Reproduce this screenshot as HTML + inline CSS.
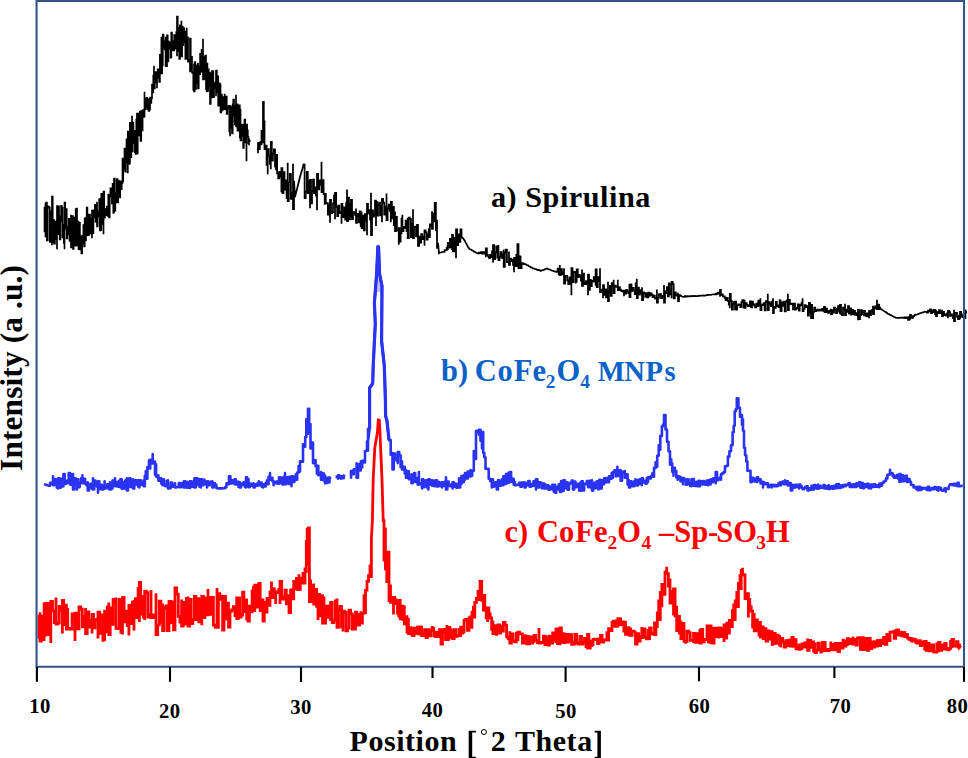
<!DOCTYPE html>
<html><head><meta charset="utf-8"><title>XRD</title>
<style>html,body{margin:0;padding:0;background:#fff;}body{width:968px;height:758px;overflow:hidden;font-family:"Liberation Serif",serif;}svg{display:block;}</style>
</head><body>
<svg width="968" height="758" viewBox="0 0 968 758">
<rect x="0" y="0" width="968" height="758" fill="#fff"/>
<polyline points="39.0,638.6 39.0,616.4 40.0,616.4 40.0,612.2 40.0,641.0 41.4,641.0 41.4,616.1 42.8,616.1 42.8,639.5 44.1,639.5 44.1,604.0 45.5,604.0 45.5,636.6 45.5,603.4 46.8,603.4 46.8,603.4 48.1,603.4 48.1,634.7 49.5,634.7 49.5,609.4 50.8,609.4 50.8,643.1 50.8,601.4 52.5,601.4 52.5,610.8 54.3,610.8 54.3,622.7 56.0,622.7 56.0,597.4 56.0,624.1 57.6,624.1 57.6,623.0 59.2,623.0 59.2,606.5 60.8,606.5 60.8,610.6 62.4,610.6 62.4,633.6 62.4,600.4 63.7,600.4 63.7,624.6 65.0,624.6 65.0,605.1 66.4,605.1 66.4,629.2 67.7,629.2 67.7,607.9 67.7,628.4 69.2,628.4 69.2,628.3 70.6,628.3 70.6,629.0 72.1,629.0 72.1,613.8 73.5,613.8 73.5,616.8 75.0,616.8 75.0,641.0 75.0,613.2 76.3,613.2 76.3,618.5 77.7,618.5 77.7,628.9 79.0,628.9 79.0,626.2 79.0,606.9 80.7,606.9 80.7,609.2 82.3,609.2 82.3,626.9 83.9,626.9 83.9,616.4 85.6,616.4 85.6,607.9 85.6,633.6 87.2,633.6 87.2,612.0 88.8,612.0 88.8,627.1 90.4,627.1 90.4,620.4 92.0,620.4 92.0,633.6 92.0,614.3 93.5,614.3 93.5,627.9 95.0,627.9 95.0,619.8 96.5,619.8 96.5,619.4 98.0,619.4 98.0,638.6 98.0,612.2 99.7,612.2 99.7,633.4 101.3,633.4 101.3,614.9 102.9,614.9 102.9,640.4 104.6,640.4 104.6,641.0 104.6,611.1 106.0,611.1 106.0,631.8 107.4,631.8 107.4,606.9 108.8,606.9 108.8,602.4 108.8,634.6 110.2,634.6 110.2,607.8 111.7,607.8 111.7,624.3 113.1,624.3 113.1,599.4 114.6,599.4 114.6,602.0 116.0,602.0 116.0,597.4 116.0,628.4 117.6,628.4 117.6,628.5 119.2,628.5 119.2,599.5 120.9,599.5 120.9,632.3 122.5,632.3 122.5,634.6 122.5,597.4 124.1,597.4 124.1,621.8 125.7,621.8 125.7,611.2 127.3,611.2 127.3,625.5 128.9,625.5 128.9,635.6 128.9,605.4 130.6,605.4 130.6,623.5 132.3,623.5 132.3,602.1 134.0,602.1 134.0,630.5 134.0,601.4 135.3,601.4 135.3,598.7 136.7,598.7 136.7,617.6 138.1,617.6 138.1,588.3 139.4,588.3 139.4,622.0 139.4,582.4 140.7,582.4 140.7,596.5 142.1,596.5 142.1,614.2 143.4,614.2 143.4,617.2 144.7,617.2 144.7,619.9 144.7,591.1 146.3,591.1 146.3,592.7 147.8,592.7 147.8,617.2 149.4,617.2 149.4,614.7 151.0,614.7 151.0,590.0 151.0,617.6 152.7,617.6 152.7,615.0 154.3,615.0 154.3,617.4 156.0,617.4 156.0,593.2 156.0,634.6 157.7,634.6 157.7,624.8 159.3,624.8 159.3,601.2 160.9,601.2 160.9,622.4 162.6,622.4 162.6,603.4 162.6,630.5 164.2,630.5 164.2,608.0 165.8,608.0 165.8,606.0 167.4,606.0 167.4,630.7 169.0,630.7 169.0,630.5 169.0,601.4 170.5,601.4 170.5,622.6 172.0,622.6 172.0,601.8 173.5,601.8 173.5,629.9 175.0,629.9 175.0,628.4 175.0,587.9 176.7,587.9 176.7,594.1 178.3,594.1 178.3,616.3 179.9,616.3 179.9,622.1 181.6,622.1 181.6,599.4 181.6,626.2 183.2,626.2 183.2,602.4 184.8,602.4 184.8,624.0 186.4,624.0 186.4,598.4 188.0,598.4 188.0,596.4 188.0,626.2 189.6,626.2 189.6,599.3 191.2,599.3 191.2,623.6 192.8,623.6 192.8,619.6 194.4,619.6 194.4,618.6 194.4,596.4 195.9,596.4 195.9,619.6 197.4,619.6 197.4,598.7 198.8,598.7 198.8,621.8 200.3,621.8 200.3,599.5 201.8,599.5 201.8,625.2 201.8,596.4 203.4,596.4 203.4,617.7 204.9,617.7 204.9,598.0 206.4,598.0 206.4,614.8 208.0,614.8 208.0,589.0 208.0,612.6 209.3,612.6 209.3,597.4 210.7,597.4 210.7,614.3 212.1,614.3 212.1,597.4 213.4,597.4 213.4,598.4 213.4,625.2 215.2,625.2 215.2,627.4 217.0,627.4 217.0,587.9 217.0,627.4 218.4,627.4 218.4,593.6 219.8,593.6 219.8,596.2 221.2,596.2 221.2,599.4 222.6,599.4 222.6,630.0 224.0,630.0 224.0,631.6 224.0,596.4 225.5,596.4 225.5,619.2 227.0,619.2 227.0,603.1 228.5,603.1 228.5,627.2 230.0,627.2 230.0,625.2 230.0,611.2 231.7,611.2 231.7,609.8 233.3,609.8 233.3,606.6 235.0,606.6 235.0,615.5 236.7,615.5 236.7,596.4 236.7,618.6 238.2,618.6 238.2,598.0 239.6,598.0 239.6,617.0 241.1,617.0 241.1,614.9 242.6,614.9 242.6,616.6 242.6,592.2 243.9,592.2 243.9,611.7 245.3,611.7 245.3,599.8 246.7,599.8 246.7,619.2 248.0,619.2 248.0,604.8 248.0,621.0 249.4,621.0 249.4,606.1 250.8,606.1 250.8,611.9 252.1,611.9 252.1,590.8 253.5,590.8 253.5,585.8 253.5,610.5 254.8,610.5 254.8,585.1 256.1,585.1 256.1,590.9 257.5,590.9 257.5,607.0 258.8,607.0 258.8,608.4 258.8,583.4 260.2,583.4 260.2,610.6 261.6,610.6 261.6,600.3 263.0,600.3 263.0,598.4 263.0,621.0 264.3,621.0 264.3,602.5 265.7,602.5 265.7,612.1 267.0,612.1 267.0,610.5 267.0,598.4 268.5,598.4 268.5,605.4 270.0,605.4 270.0,592.0 271.5,592.0 271.5,581.4 271.5,597.6 272.9,597.6 272.9,588.6 274.3,588.6 274.3,591.6 275.7,591.6 275.7,604.1 275.7,592.2 277.1,592.2 277.1,592.7 278.6,592.7 278.6,589.7 280.0,589.7 280.0,604.1 280.0,581.4 281.7,581.4 281.7,599.1 283.3,599.1 283.3,596.8 285.0,596.8 285.0,599.6 285.0,590.1 286.3,590.1 286.3,603.9 287.7,603.9 287.7,603.6 289.0,603.6 289.0,594.3 289.0,612.6 290.6,612.6 290.6,590.0 292.1,590.0 292.1,598.8 293.7,598.8 293.7,591.5 293.7,581.4 295.0,581.4 295.0,588.8 296.4,588.8 296.4,578.4 297.7,578.4 297.7,589.6 299.0,589.6 299.0,574.2 299.0,589.4 300.3,589.4 300.3,578.2 301.7,578.2 301.7,580.9 303.0,580.9 303.0,572.1 303.0,583.0 305.0,583.0 305.0,567.4 305.0,571.6 306.3,571.6 306.3,566.6 306.3,541.4 307.2,541.4 307.2,527.8 307.2,560.6 308.3,560.6 308.3,565.6 308.3,527.8 309.4,527.8 309.4,559.4 309.4,601.6 310.6,601.6 310.6,579.4 310.6,601.6 312.1,601.6 312.1,585.6 313.7,585.6 313.7,583.4 313.7,604.1 315.1,604.1 315.1,589.5 316.6,589.5 316.6,606.4 318.0,606.4 318.0,620.0 318.0,594.3 319.5,594.3 319.5,615.9 321.0,615.9 321.0,595.7 322.5,595.7 322.5,623.1 324.0,623.1 324.0,596.4 324.0,623.1 325.6,623.1 325.6,606.2 327.3,606.2 327.3,617.3 329.0,617.3 329.0,606.0 330.6,606.0 330.6,621.0 330.6,602.4 332.2,602.4 332.2,622.6 333.8,622.6 333.8,620.1 335.4,620.1 335.4,600.9 337.0,600.9 337.0,598.4 337.0,627.4 338.5,627.4 338.5,609.8 340.0,609.8 340.0,606.4 341.5,606.4 341.5,626.9 343.0,626.9 343.0,631.6 343.0,611.2 344.5,611.2 344.5,612.5 346.0,612.5 346.0,630.8 347.5,630.8 347.5,628.2 349.0,628.2 349.0,629.5 349.0,610.1 350.6,610.1 350.6,613.9 352.2,613.9 352.2,629.0 353.9,629.0 353.9,615.8 355.5,615.8 355.5,630.6 355.5,612.2 356.8,612.2 356.8,622.6 358.1,622.6 358.1,625.1 359.5,625.1 359.5,614.4 360.8,614.4 360.8,611.2 360.8,623.1 362.4,623.1 362.4,613.4 364.0,613.4 364.0,594.3 364.0,612.6 365.5,612.6 365.5,590.3 367.0,590.3 367.0,591.5 367.0,581.4 368.5,581.4 368.5,575.6 370.0,575.6 370.0,564.4 370.0,576.6 371.4,576.6 371.4,561.6 371.4,538.4 372.4,520.5 373.2,479.5 374.8,447.6 376.1,439.9 377.4,432.6 378.3,419.9 379.3,420.1 380.0,432.4 380.6,447.4 382.0,479.6 383.2,520.6 384.0,520.6 384.0,561.6 384.0,528.8 385.4,528.8 385.4,568.8 386.8,568.8 386.8,583.0 386.8,552.1 389.0,552.1 389.0,602.0 389.0,585.8 390.5,585.8 390.5,602.4 392.0,602.4 392.0,598.4 393.5,598.4 393.5,614.6 393.5,597.4 394.8,597.4 394.8,599.8 396.1,599.8 396.1,603.6 397.5,603.6 397.5,613.2 398.8,613.2 398.8,617.6 398.8,600.4 400.2,600.4 400.2,618.9 401.6,618.9 401.6,606.1 403.0,606.1 403.0,621.0 403.0,606.9 404.3,606.9 404.3,623.8 405.7,623.8 405.7,616.6 407.0,616.6 407.0,633.6 407.0,619.4 408.4,619.4 408.4,633.5 409.8,633.5 409.8,627.6 411.1,627.6 411.1,634.0 412.5,634.0 412.5,628.0 412.5,635.6 414.1,635.6 414.1,628.1 415.7,628.1 415.7,633.3 417.3,633.3 417.3,627.2 418.9,627.2 418.9,635.6 418.9,627.0 420.3,627.0 420.3,627.1 421.7,627.1 421.7,635.7 423.2,635.7 423.2,634.4 424.6,634.4 424.6,629.6 426.0,629.6 426.0,629.1 426.0,637.6 427.5,637.6 427.5,629.6 429.1,629.6 429.1,635.8 430.6,635.8 430.6,630.6 432.2,630.6 432.2,627.3 433.7,627.3 433.7,627.0 433.7,635.6 435.2,635.6 435.2,636.6 436.6,636.6 436.6,632.1 438.1,632.1 438.1,636.7 439.5,636.7 439.5,629.6 441.0,629.6 441.0,630.2 441.0,644.2 442.5,644.2 442.5,631.3 444.0,631.3 444.0,629.3 445.5,629.3 445.5,639.5 447.0,639.5 447.0,624.9 447.0,639.6 448.4,639.6 448.4,627.5 449.8,627.5 449.8,629.6 451.2,629.6 451.2,637.9 452.6,637.9 452.6,630.2 452.6,638.6 454.2,638.6 454.2,629.6 455.8,629.6 455.8,636.4 457.4,636.4 457.4,635.3 459.0,635.3 459.0,628.0 459.0,635.6 460.7,635.6 460.7,627.1 462.3,627.1 462.3,633.0 464.0,633.0 464.0,633.6 464.0,620.4 465.6,620.4 465.6,619.5 467.3,619.5 467.3,630.4 469.0,630.4 469.0,617.9 470.6,617.9 470.6,615.4 470.6,627.4 472.0,627.4 472.0,612.2 473.4,612.2 473.4,607.1 474.8,607.1 474.8,618.6 474.8,602.4 476.4,602.4 476.4,598.3 478.0,598.3 478.0,590.1 478.0,599.6 480.0,599.6 480.0,588.6 480.0,581.4 481.7,581.4 481.7,600.3 483.4,600.3 483.4,611.5 483.4,595.3 484.8,595.3 484.8,610.0 486.2,610.0 486.2,617.9 487.6,617.9 487.6,622.0 487.6,607.9 488.9,607.9 488.9,613.8 490.2,613.8 490.2,618.0 491.6,618.0 491.6,629.3 492.9,629.3 492.9,620.4 492.9,633.6 494.6,633.6 494.6,625.7 496.3,625.7 496.3,634.3 498.0,634.3 498.0,634.6 498.0,624.8 499.4,624.8 499.4,633.0 500.7,633.0 500.7,626.2 502.0,626.2 502.0,629.9 503.4,629.9 503.4,632.6 503.4,622.4 505.0,622.4 505.0,625.1 506.6,625.1 506.6,636.8 508.2,636.8 508.2,638.9 509.8,638.9 509.8,631.2 509.8,643.1 511.4,643.1 511.4,634.0 513.1,634.0 513.1,640.9 514.7,640.9 514.7,641.9 516.4,641.9 516.4,633.1 518.0,633.1 518.0,641.0 518.0,632.2 519.5,632.2 519.5,633.9 520.9,633.9 520.9,633.9 522.4,633.9 522.4,643.1 523.8,643.1 523.8,635.6 525.2,635.6 525.2,638.3 526.7,638.3 526.7,645.2 526.7,636.4 528.2,636.4 528.2,643.8 529.6,643.8 529.6,637.5 531.1,637.5 531.1,636.9 532.5,636.9 532.5,643.0 534.0,643.0 534.0,643.1 534.0,635.4 535.7,635.4 535.7,640.3 537.3,640.3 537.3,642.5 539.0,642.5 539.0,628.0 539.0,643.1 540.5,643.1 540.5,642.3 541.9,642.3 541.9,642.5 543.4,642.5 543.4,636.1 544.9,636.1 544.9,644.6 546.3,644.6 546.3,636.6 547.8,636.6 547.8,636.4 547.8,645.2 549.4,645.2 549.4,636.1 551.1,636.1 551.1,643.1 552.7,643.1 552.7,632.8 554.4,632.8 554.4,640.1 556.0,640.1 556.0,643.1 556.0,629.0 557.3,629.0 557.3,643.6 558.7,643.6 558.7,630.8 560.0,630.8 560.0,645.2 560.0,628.0 561.4,628.0 561.4,642.3 562.7,642.3 562.7,633.6 564.1,633.6 564.1,642.5 565.4,642.5 565.4,634.4 566.8,634.4 566.8,643.1 566.8,634.4 568.4,634.4 568.4,642.1 570.1,642.1 570.1,634.7 571.7,634.7 571.7,644.3 573.4,644.3 573.4,642.1 575.0,642.1 575.0,645.2 575.0,634.4 576.6,634.4 576.6,642.5 578.2,642.5 578.2,644.1 579.9,644.1 579.9,636.5 581.5,636.5 581.5,637.4 581.5,644.2 583.0,644.2 583.0,642.3 584.5,642.3 584.5,638.5 586.0,638.5 586.0,646.6 587.5,646.6 587.5,649.5 587.5,634.4 588.9,634.4 588.9,648.2 590.2,648.2 590.2,645.7 591.6,645.7 591.6,641.1 593.0,641.1 593.0,646.3 593.0,639.4 594.5,639.4 594.5,639.1 596.0,639.1 596.0,639.9 597.5,639.9 597.5,643.6 599.0,643.6 599.0,638.9 600.5,638.9 600.5,643.1 600.5,635.4 602.1,635.4 602.1,642.1 603.7,642.1 603.7,639.9 605.3,639.9 605.3,640.1 606.9,640.1 606.9,631.2 606.9,640.0 608.6,640.0 608.6,628.6 610.3,628.6 610.3,630.6 612.0,630.6 612.0,630.5 612.0,622.4 613.5,622.4 613.5,621.1 614.9,621.1 614.9,626.3 616.4,626.3 616.4,619.4 616.4,626.2 617.8,626.2 617.8,618.7 619.2,618.7 619.2,624.9 620.6,624.9 620.6,617.4 620.6,624.1 622.2,624.1 622.2,621.8 623.8,621.8 623.8,632.6 623.8,622.4 625.5,622.4 625.5,634.4 627.3,634.4 627.3,627.6 629.0,627.6 629.0,636.6 629.0,629.0 630.6,629.0 630.6,635.3 632.2,635.3 632.2,631.1 633.9,631.1 633.9,631.4 635.5,631.4 635.5,631.2 635.5,644.2 637.1,644.2 637.1,633.7 638.6,633.7 638.6,641.0 640.2,641.0 640.2,636.5 641.8,636.5 641.8,626.9 641.8,637.6 643.3,637.6 643.3,628.9 644.9,628.9 644.9,636.9 646.5,636.9 646.5,638.8 648.0,638.8 648.0,629.0 648.0,638.6 649.6,638.6 649.6,628.0 651.2,628.0 651.2,633.6 652.9,633.6 652.9,634.1 654.5,634.1 654.5,621.4 654.5,634.6 655.9,634.6 655.9,626.7 657.3,626.7 657.3,613.0 658.7,613.0 658.7,599.4 658.7,619.6 660.3,619.6 660.3,592.3 661.9,592.3 661.9,607.3 661.9,584.4 663.5,584.4 663.5,594.3 665.0,594.3 665.0,583.6 665.0,572.1 666.7,572.1 666.7,566.8 666.7,573.6 668.4,573.6 668.4,586.1 670.0,586.1 670.0,578.4 670.0,603.0 671.8,603.0 671.8,591.4 673.5,591.4 673.5,615.6 673.5,588.9 675.1,588.9 675.1,615.8 676.7,615.8 676.7,605.8 676.7,630.5 678.1,630.5 678.1,616.3 679.5,616.3 679.5,633.2 680.9,633.2 680.9,620.4 680.9,638.6 682.4,638.6 682.4,623.4 684.0,623.4 684.0,641.2 685.5,641.2 685.5,642.3 687.0,642.3 687.0,643.1 687.0,631.2 688.6,631.2 688.6,632.7 690.2,632.7 690.2,640.3 691.9,640.3 691.9,640.3 693.5,640.3 693.5,643.1 693.5,633.3 695.1,633.3 695.1,642.4 696.7,642.4 696.7,633.7 698.3,633.7 698.3,642.3 699.9,642.3 699.9,629.0 699.9,643.1 701.3,643.1 701.3,629.4 702.7,629.4 702.7,641.8 704.2,641.8 704.2,639.3 705.6,639.3 705.6,639.6 707.0,639.6 707.0,641.0 707.0,625.9 708.4,625.9 708.4,642.0 709.8,642.0 709.8,625.9 711.1,625.9 711.1,642.9 712.5,642.9 712.5,626.9 712.5,643.1 714.1,643.1 714.1,628.1 715.7,628.1 715.7,636.5 717.3,636.5 717.3,628.2 718.9,628.2 718.9,638.6 718.9,628.0 720.6,628.0 720.6,636.5 722.3,636.5 722.3,628.7 724.0,628.7 724.0,642.1 724.0,624.8 725.4,624.8 725.4,638.1 726.7,638.1 726.7,623.2 728.0,623.2 728.0,633.0 729.4,633.0 729.4,632.6 729.4,620.4 730.8,620.4 730.8,626.5 732.3,626.5 732.3,610.7 733.7,610.7 733.7,603.4 733.7,619.6 735.2,619.6 735.2,600.9 736.8,600.9 736.8,591.1 736.8,606.6 738.4,606.6 738.4,583.3 740.0,583.3 740.0,574.2 740.0,588.6 741.2,588.6 741.2,570.5 742.5,570.5 742.5,567.8 742.5,574.6 743.8,574.6 743.8,575.0 745.0,575.0 745.0,580.4 745.0,598.6 746.7,598.6 746.7,593.6 748.4,593.6 748.4,617.6 748.4,599.4 749.8,599.4 749.8,606.7 751.2,606.7 751.2,611.1 752.6,611.1 752.6,628.4 752.6,614.3 754.2,614.3 754.2,630.8 755.8,630.8 755.8,620.0 757.4,620.0 757.4,630.8 759.0,630.8 759.0,636.6 759.0,622.4 760.4,622.4 760.4,637.0 761.8,637.0 761.8,627.0 763.2,627.0 763.2,638.5 764.6,638.5 764.6,628.7 766.0,628.7 766.0,629.0 766.0,641.0 767.6,641.0 767.6,630.9 769.1,630.9 769.1,639.0 770.7,639.0 770.7,631.7 772.2,631.7 772.2,644.4 773.8,644.4 773.8,645.2 773.8,633.3 775.2,633.3 775.2,643.4 776.7,643.4 776.7,635.2 778.1,635.2 778.1,636.6 779.6,636.6 779.6,645.2 781.0,645.2 781.0,647.4 781.0,638.4 782.7,638.4 782.7,642.0 784.4,642.0 784.4,641.4 784.4,647.2 785.9,647.2 785.9,640.6 787.4,640.6 787.4,645.6 788.8,645.6 788.8,640.2 790.3,640.2 790.3,646.0 791.8,646.0 791.8,647.2 791.8,637.4 793.2,637.4 793.2,646.3 794.7,646.3 794.7,639.7 796.1,639.7 796.1,648.8 797.6,648.8 797.6,648.3 799.0,648.3 799.0,643.4 799.0,649.4 800.4,649.4 800.4,648.7 801.9,648.7 801.9,644.0 803.3,644.0 803.3,647.1 804.7,647.1 804.7,642.8 806.2,642.8 806.2,647.1 807.6,647.1 807.6,638.4 807.6,650.4 809.1,650.4 809.1,640.3 810.6,640.3 810.6,647.4 812.0,647.4 812.0,641.8 813.5,641.8 813.5,651.0 815.0,651.0 815.0,642.4 815.0,652.6 816.5,652.6 816.5,650.2 818.0,650.2 818.0,643.2 819.4,643.2 819.4,649.1 820.9,649.1 820.9,652.1 822.4,652.1 822.4,652.6 822.4,642.4 823.8,642.4 823.8,642.5 825.2,642.5 825.2,650.7 826.6,650.7 826.6,649.4 828.0,649.4 828.0,650.5 829.4,650.5 829.4,649.6 830.8,649.6 830.8,641.4 830.8,649.4 832.2,649.4 832.2,644.3 833.7,644.3 833.7,649.9 835.1,649.9 835.1,643.5 836.6,643.5 836.6,648.8 838.0,648.8 838.0,642.4 838.0,651.5 839.6,651.5 839.6,643.5 841.3,643.5 841.3,648.1 843.0,648.1 843.0,640.1 844.6,640.1 844.6,639.4 844.6,646.2 846.0,646.2 846.0,644.6 847.4,644.6 847.4,638.6 848.8,638.6 848.8,640.2 850.2,640.2 850.2,643.5 851.6,643.5 851.6,639.4 853.0,639.4 853.0,636.4 853.0,644.1 854.5,644.1 854.5,639.4 856.0,639.4 856.0,645.0 857.4,645.0 857.4,638.1 858.9,638.1 858.9,637.7 860.4,637.7 860.4,637.4 860.4,649.4 861.8,649.4 861.8,637.6 863.2,637.6 863.2,649.7 864.6,649.7 864.6,638.3 866.0,638.3 866.0,645.9 867.4,645.9 867.4,650.4 868.8,650.4 868.8,650.4 868.8,638.4 870.2,638.4 870.2,648.6 871.7,648.6 871.7,641.9 873.1,641.9 873.1,647.0 874.6,647.0 874.6,641.6 876.0,641.6 876.0,640.4 876.0,646.2 877.5,646.2 877.5,640.5 879.0,640.5 879.0,645.6 880.6,645.6 880.6,640.1 882.1,640.1 882.1,643.6 883.6,643.6 883.6,645.1 883.6,637.4 885.2,637.4 885.2,644.4 886.8,644.4 886.8,634.4 888.4,634.4 888.4,640.4 890.0,640.4 890.0,642.0 890.0,632.1 891.4,632.1 891.4,632.2 892.8,632.2 892.8,631.6 894.2,631.6 894.2,638.4 895.6,638.4 895.6,630.7 897.0,630.7 897.0,635.6 897.0,630.0 898.5,630.0 898.5,635.1 900.1,635.1 900.1,632.1 901.6,632.1 901.6,635.8 903.2,635.8 903.2,632.8 904.7,632.8 904.7,631.1 904.7,636.6 906.0,636.6 906.0,634.5 907.4,634.5 907.4,637.8 908.7,637.8 908.7,639.2 910.0,639.2 910.0,640.9 910.0,638.4 911.5,638.4 911.5,641.0 913.0,641.0 913.0,639.2 914.4,639.2 914.4,639.6 915.9,639.6 915.9,642.5 917.4,642.5 917.4,640.4 917.4,643.0 918.9,643.0 918.9,640.6 920.3,640.6 920.3,645.5 921.8,645.5 921.8,642.1 923.2,642.1 923.2,641.9 924.7,641.9 924.7,650.4 924.7,641.4 926.2,641.4 926.2,650.4 927.6,650.4 927.6,643.5 929.1,643.5 929.1,650.8 930.5,650.8 930.5,645.7 932.0,645.7 932.0,651.5 932.0,644.8 933.6,644.8 933.6,651.8 935.2,651.8 935.2,652.1 936.8,652.1 936.8,643.8 938.4,643.8 938.4,652.6 938.4,642.4 940.0,642.4 940.0,650.4 941.6,650.4 941.6,645.0 943.2,645.0 943.2,649.0 944.8,649.0 944.8,650.4 944.8,643.4 946.2,643.4 946.2,648.7 947.7,648.7 947.7,649.8 949.1,649.8 949.1,648.3 950.6,648.3 950.6,641.3 952.0,641.3 952.0,648.3 952.0,639.4 953.5,639.4 953.5,645.8 955.0,645.8 955.0,646.1 956.5,646.1 956.5,641.7 958.0,641.7 958.0,647.2 959.5,647.2 959.5,643.4 959.5,647.2 961.0,645.5" fill="none" stroke="#ff0000" stroke-width="2.8" stroke-linejoin="miter" stroke-linecap="butt"/>
<polyline points="44.0,484.2 45.2,484.6 46.4,484.8 47.5,485.3 48.7,485.7 50.1,485.7 50.1,482.9 51.6,482.9 51.6,483.4 53.0,483.4 53.0,476.3 53.0,485.2 54.2,485.2 54.2,479.1 55.5,479.1 55.5,481.7 56.8,481.7 56.8,487.5 58.0,487.5 58.0,488.4 58.0,478.3 59.4,478.3 59.4,487.8 60.7,487.8 60.7,478.8 62.0,478.8 62.0,486.5 63.4,486.5 63.4,486.3 63.4,474.1 64.7,474.1 64.7,484.0 66.0,484.0 66.0,480.8 67.4,480.8 67.4,482.8 68.7,482.8 68.7,483.1 68.7,473.1 70.1,473.1 70.1,484.6 71.6,484.6 71.6,474.4 73.0,474.4 73.0,474.1 73.0,489.5 74.3,489.5 74.3,478.4 75.7,478.4 75.7,484.3 77.0,484.3 77.0,489.5 77.0,479.3 78.3,479.3 78.3,487.1 79.7,487.1 79.7,483.0 81.1,483.0 81.1,478.3 82.4,478.3 82.4,475.2 82.4,483.1 83.7,483.1 83.7,478.8 85.1,478.8 85.1,483.7 86.4,483.7 86.4,485.2 87.7,485.2 87.7,482.3 87.7,490.5 89.0,490.5 89.0,487.2 90.3,487.2 90.3,483.9 91.7,483.9 91.7,488.7 93.0,488.7 93.0,478.3 93.0,489.5 94.2,489.5 94.2,480.6 95.5,480.6 95.5,482.5 96.8,482.5 96.8,486.6 98.0,486.6 98.0,492.7 98.0,481.3 99.3,481.3 99.3,489.2 100.6,489.2 100.6,484.9 102.0,484.9 102.0,489.5 103.3,489.5 103.3,486.2 104.6,486.2 104.6,481.3 104.6,488.4 105.9,488.4 105.9,487.3 107.3,487.3 107.3,484.2 108.7,484.2 108.7,489.3 110.0,489.3 110.0,482.3 110.0,489.5 111.2,489.5 111.2,488.4 112.5,488.4 112.5,480.6 113.8,480.6 113.8,481.3 115.0,481.3 115.0,478.3 115.0,486.3 116.3,486.3 116.3,482.1 117.7,482.1 117.7,486.6 119.1,486.6 119.1,480.7 120.4,480.7 120.4,487.4 120.4,479.3 121.7,479.3 121.7,488.6 123.0,488.6 123.0,482.0 124.2,482.0 124.2,488.4 125.5,488.4 125.5,480.3 126.8,480.3 126.8,478.3 126.8,490.5 128.0,490.5 128.0,479.6 129.3,479.6 129.3,478.4 130.5,478.4 130.5,486.9 131.8,486.9 131.8,480.4 133.0,480.4 133.0,479.3 133.0,488.4 134.3,488.4 134.3,480.2 135.6,480.2 135.6,484.5 136.8,484.5 136.8,480.4 138.1,480.4 138.1,486.6 139.4,486.6 139.4,487.4 139.4,480.3 140.8,480.3 140.8,485.0 142.3,485.0 142.3,481.9 143.7,481.9 143.7,480.3 143.7,486.3 144.8,486.3 144.8,475.9 145.8,475.9 145.8,471.0 145.8,478.7 147.4,478.7 147.4,467.0 149.0,467.0 149.0,460.3 149.0,468.4 150.2,468.4 150.2,459.8 151.5,459.8 151.5,463.5 152.7,463.5 152.7,454.1 152.7,461.7 153.8,461.7 153.8,461.5 155.0,461.5 155.0,474.7 155.0,464.3 156.1,464.3 156.1,476.6 157.3,476.6 157.3,477.3 158.4,477.3 158.4,475.2 158.4,480.7 159.8,480.7 159.8,478.2 161.2,478.2 161.2,483.6 162.6,483.6 162.6,485.2 162.6,479.3 163.9,479.3 163.9,485.3 165.3,485.3 165.3,486.1 166.7,486.1 166.7,480.8 168.0,480.8 168.0,480.3 168.0,488.4 169.4,488.4 169.4,488.1 170.8,488.1 170.8,482.5 172.2,482.5 172.2,486.6 173.6,486.6 173.6,485.9 175.0,485.9 175.0,483.3 175.0,487.4 176.3,487.4 176.3,487.2 177.5,487.2 177.5,486.9 178.8,486.9 178.8,483.1 180.0,483.1 180.0,487.3 181.3,487.3 181.3,483.3 182.5,483.3 182.5,486.5 183.8,486.5 183.8,487.4 183.8,481.3 185.0,481.3 185.0,487.4 186.3,487.4 186.3,481.9 187.5,481.9 187.5,487.7 188.8,487.7 188.8,483.8 190.0,483.8 190.0,488.0 190.0,481.3 191.5,481.3 191.5,486.7 192.9,486.7 192.9,481.8 194.4,481.8 194.4,478.3 194.4,487.4 195.7,487.4 195.7,478.3 197.0,478.3 197.0,485.0 198.2,485.0 198.2,479.0 199.5,479.0 199.5,486.8 200.8,486.8 200.8,487.4 200.8,479.3 202.0,479.3 202.0,485.3 203.3,485.3 203.3,479.9 204.5,479.9 204.5,484.1 205.8,484.1 205.8,483.0 207.0,483.0 207.0,487.4 207.0,481.3 208.3,481.3 208.3,485.3 209.7,485.3 209.7,482.3 211.1,482.3 211.1,481.5 212.4,481.5 212.4,481.3 212.4,487.4 213.7,487.4 213.7,483.3 215.1,483.3 215.1,484.9 216.4,484.9 216.4,488.1 217.7,488.4 219.0,488.3 220.2,488.4 221.5,488.3 222.7,488.4 224.0,488.3 225.2,488.3 225.2,487.1 226.5,487.1 226.5,483.4 227.8,483.4 227.8,484.3 229.0,484.3 229.0,484.2 229.0,476.3 230.4,476.3 230.4,483.5 231.8,483.5 231.8,480.3 233.1,480.3 233.1,483.0 234.5,483.0 234.5,484.2 234.5,479.3 235.8,479.3 235.8,484.4 237.2,484.4 237.2,481.9 238.5,481.9 238.5,486.9 239.8,486.9 239.8,482.3 239.8,487.4 241.0,487.4 241.0,483.6 242.3,483.6 242.3,485.0 243.5,485.0 243.5,482.2 244.8,482.2 244.8,486.7 246.0,486.7 246.0,487.4 246.0,477.3 247.2,477.3 247.2,479.1 248.5,479.1 248.5,487.1 249.8,487.1 249.8,483.6 251.0,483.6 251.0,485.7 252.2,485.7 252.2,485.4 253.5,485.4 253.5,483.3 253.5,487.4 254.8,487.4 254.8,484.4 256.1,484.4 256.1,485.6 257.5,485.6 257.5,483.2 258.8,483.2 258.8,481.3 258.8,485.3 260.2,485.3 260.2,482.6 261.6,482.6 261.6,486.6 263.0,486.6 263.0,487.4 263.0,484.3 264.3,484.3 264.3,486.4 265.7,486.4 265.7,482.7 267.0,482.7 267.0,480.3 267.0,484.2 268.5,484.2 268.5,476.7 270.0,476.7 270.0,473.1 270.0,479.7 271.2,479.7 271.2,477.7 272.4,477.7 272.4,481.1 273.6,481.1 273.6,485.3 273.6,482.3 275.0,482.3 275.0,483.3 276.3,483.3 276.3,481.5 277.6,481.5 277.6,483.7 279.0,483.7 279.0,483.2 279.0,477.3 280.2,477.3 280.2,483.2 281.4,483.2 281.4,477.9 282.6,477.9 282.6,484.5 283.8,484.5 283.8,476.8 285.0,476.8 285.0,473.1 285.0,484.2 286.3,484.2 286.3,477.8 287.6,477.8 287.6,477.0 288.9,477.0 288.9,483.9 290.2,483.9 290.2,476.7 291.5,476.7 291.5,486.3 291.5,476.3 292.9,476.3 292.9,482.0 294.4,482.0 294.4,477.0 295.8,477.0 295.8,474.2 295.8,479.7 297.2,479.7 297.2,472.5 298.6,472.5 298.6,466.0 300.0,466.0 300.0,471.6 300.0,461.3 301.5,461.3 301.5,461.7 303.0,461.7 303.0,458.7 303.0,444.3 304.1,444.3 304.1,446.8 305.2,446.8 305.2,437.0 306.3,437.0 306.3,419.3 306.3,433.7 308.0,433.7 308.0,413.7 308.0,408.7 309.2,408.7 309.2,424.1 310.5,424.1 310.5,434.1 310.5,448.4 311.8,448.4 311.8,442.6 313.0,442.6 313.0,451.0 313.0,463.1 314.3,463.1 314.3,460.3 315.6,460.3 315.6,466.2 316.9,466.2 316.9,473.7 316.9,465.7 318.3,465.7 318.3,475.2 319.6,475.2 319.6,474.1 321.0,474.1 321.0,472.1 321.0,479.7 322.3,479.7 322.3,473.3 323.7,473.3 323.7,480.4 325.0,480.4 325.0,475.3 325.0,483.2 326.5,483.2 326.5,477.9 328.0,477.9 328.0,482.5 329.5,482.5 329.5,482.1 329.5,477.3 330.6,479.0" fill="none" stroke="#2b33f3" stroke-width="2.6" stroke-linejoin="round" stroke-linecap="butt"/>
<polyline points="335.5,476.9 336.8,476.9 336.8,477.3 338.0,477.3 338.0,478.7 338.0,475.3 339.5,475.3 339.5,477.8 341.0,477.8 341.0,478.7 341.0,476.3 342.3,476.3 342.3,478.3 343.7,478.3 343.7,475.6 345.0,476.5" fill="none" stroke="#2b33f3" stroke-width="2.6" stroke-linejoin="round" stroke-linecap="butt"/>
<polyline points="351.0,478.7 351.0,471.0 352.4,471.0 352.4,474.3 353.8,474.3 353.8,469.2 355.2,469.2 355.2,469.5 356.6,469.5 356.6,463.3 356.6,477.7 358.0,477.7 358.0,464.3 359.4,464.3 359.4,470.5 360.8,470.5 360.8,461.3 360.8,467.4 362.2,467.4 362.2,460.8 363.6,460.8 363.6,462.5 365.0,462.5 365.0,460.7 365.0,451.0 366.0,451.0 366.0,450.5 367.0,450.5 367.0,441.3 367.0,450.7 368.0,450.7 368.0,428.8 368.0,441.7 369.6,428.9 369.6,388.0 371.1,385.6 372.7,383.4 373.2,366.0 374.2,344.9 375.3,324.0 374.4,303.1 375.5,288.4 376.6,274.2 377.5,246.5 378.9,246.8 379.6,274.0 380.8,280.2 382.0,285.9 381.6,341.1 383.0,353.4 384.3,365.9 385.4,400.2 385.6,415.9 387.0,421.2 388.0,430.4 389.0,440.1 390.7,440.1 390.7,451.3 390.7,454.7 392.5,454.7 392.5,453.1 392.5,469.5 393.8,469.5 393.8,453.6 395.1,453.6 395.1,458.4 396.5,458.4 396.5,460.6 397.8,460.6 397.8,463.1 397.8,452.0 399.2,452.0 399.2,455.4 400.6,455.4 400.6,467.2 402.0,467.2 402.0,461.3 402.0,469.5 403.3,469.5 403.3,466.7 404.7,466.7 404.7,473.5 406.0,473.5 406.0,470.0 406.0,477.7 407.4,477.7 407.4,471.3 408.8,471.3 408.8,479.3 410.1,479.3 410.1,478.9 411.5,478.9 411.5,474.2 411.5,483.2 412.7,483.2 412.7,479.7 414.0,479.7 414.0,473.0 415.2,473.0 415.2,482.0 416.4,482.0 416.4,478.0 417.7,478.0 417.7,484.6 418.9,484.6 418.9,472.1 418.9,484.2 420.4,484.2 420.4,483.2 422.0,483.2 422.0,488.5 422.0,479.3 423.3,479.3 423.3,487.1 424.6,487.1 424.6,485.5 425.8,485.5 425.8,480.4 427.1,480.4 427.1,487.4 428.4,487.4 428.4,489.5 428.4,479.3 429.6,479.3 429.6,484.8 430.9,484.8 430.9,480.3 432.1,480.3 432.1,485.8 433.3,485.8 433.3,480.9 434.6,480.9 434.6,486.3 435.8,486.3 435.8,486.3 435.8,480.3 437.0,480.3 437.0,486.4 438.3,486.4 438.3,482.1 439.5,482.1 439.5,485.9 440.8,485.9 440.8,485.5 442.0,485.5 442.0,487.4 442.0,482.3 443.3,482.3 443.3,486.0 444.7,486.0 444.7,481.7 446.0,481.7 446.0,477.3 446.0,489.5 447.3,489.5 447.3,481.6 448.6,481.6 448.6,485.9 450.0,485.9 450.0,486.1 451.3,486.1 451.3,484.3 452.6,484.3 452.6,488.5 452.6,482.3 453.9,482.3 453.9,486.8 455.2,486.8 455.2,483.8 456.4,483.8 456.4,487.7 457.7,487.7 457.7,484.3 459.0,484.3 459.0,478.3 459.0,487.4 460.2,487.4 460.2,484.0 461.4,484.0 461.4,476.0 462.6,476.0 462.6,482.1 463.8,482.1 463.8,475.2 465.0,475.2 465.0,479.7 465.0,473.1 466.4,473.1 466.4,478.5 467.8,478.5 467.8,471.6 469.2,471.6 469.2,476.5 470.6,476.5 470.6,470.0 470.6,475.7 472.2,475.7 472.2,470.8 473.8,470.8 473.8,467.4 473.8,451.0 474.9,451.0 474.9,459.0 476.0,459.0 476.0,448.7 476.0,430.9 477.5,430.9 477.5,432.3 479.0,432.3 479.0,434.7 479.0,429.8 480.5,429.8 480.5,440.8 482.0,440.8 482.0,448.4 482.0,432.0 483.2,432.0 483.2,452.9 484.3,452.9 484.3,457.2 485.5,457.2 485.5,461.3 485.5,468.7 487.1,468.7 487.1,468.9 488.7,468.9 488.7,475.3 488.7,478.7 490.2,478.7 490.2,481.1 491.8,481.1 491.8,487.4 491.8,479.3 493.0,479.3 493.0,486.6 494.3,486.6 494.3,483.2 495.5,483.2 495.5,482.4 496.8,482.4 496.8,489.4 498.0,489.4 498.0,489.5 498.0,480.3 499.4,480.3 499.4,485.7 500.7,485.7 500.7,485.3 502.0,485.3 502.0,479.4 503.4,479.4 503.4,485.3 503.4,476.3 504.7,476.3 504.7,483.9 506.0,483.9 506.0,474.0 507.2,474.0 507.2,482.9 508.5,482.9 508.5,472.8 509.8,472.8 509.8,482.1 509.8,472.1 511.1,472.1 511.1,482.0 512.4,482.0 512.4,478.7 513.7,478.7 513.7,484.8 515.0,484.8 515.0,482.3 515.0,485.3 516.4,485.3 516.4,485.0 517.7,485.0 517.7,484.7 519.1,484.7 519.1,482.8 520.4,482.8 520.4,486.7 521.8,486.7 521.8,482.5 523.1,482.5 523.1,484.4 524.5,484.4 524.5,482.3 524.5,487.4 525.8,487.4 525.8,483.1 527.1,483.1 527.1,485.1 528.3,485.1 528.3,481.0 529.6,481.0 529.6,486.7 530.9,486.7 530.9,484.1 532.2,484.1 532.2,485.9 533.4,485.9 533.4,481.4 534.7,481.4 534.7,480.8 536.0,480.8 536.0,489.5 536.0,479.3 537.4,479.3 537.4,487.5 538.8,487.5 538.8,482.2 540.2,482.2 540.2,482.9 541.5,482.9 541.5,488.1 542.9,488.1 542.9,483.6 544.3,483.6 544.3,488.4 545.7,488.4 545.7,484.7 545.7,488.5 547.0,488.5 547.0,485.3 548.4,485.3 548.4,489.6 549.7,489.6 549.7,486.6 551.0,486.6 551.0,489.3 552.3,489.3 552.3,484.7 553.7,484.7 553.7,491.6 555.0,491.6 555.0,484.7 555.0,492.7 556.2,492.7 556.2,486.7 557.5,486.7 557.5,489.2 558.7,489.2 558.7,484.4 559.9,484.4 559.9,492.0 561.1,492.0 561.1,481.0 562.4,481.0 562.4,490.9 563.6,490.9 563.6,490.6 563.6,480.3 564.9,480.3 564.9,488.1 566.3,488.1 566.3,482.3 567.6,482.3 567.6,489.7 569.0,489.7 569.0,484.0 570.3,484.0 570.3,482.7 571.7,482.7 571.7,480.6 573.0,480.6 573.0,481.3 573.0,489.5 574.2,489.5 574.2,481.5 575.4,481.5 575.4,487.3 576.6,487.3 576.6,483.7 577.9,483.7 577.9,486.3 579.1,486.3 579.1,490.6 580.3,490.6 580.3,482.5 581.5,482.5 581.5,490.6 581.5,481.3 582.8,481.3 582.8,490.4 584.1,490.4 584.1,483.8 585.4,483.8 585.4,484.3 586.8,484.3 586.8,481.0 588.1,481.0 588.1,487.1 589.4,487.1 589.4,480.8 590.7,480.8 590.7,487.5 592.0,487.5 592.0,480.3 592.0,490.6 593.2,490.6 593.2,483.1 594.4,483.1 594.4,488.3 595.6,488.3 595.6,482.6 596.9,482.6 596.9,481.2 598.1,481.2 598.1,489.2 599.3,489.2 599.3,479.8 600.5,479.8 600.5,480.3 600.5,488.5 601.7,488.5 601.7,480.4 602.9,480.4 602.9,484.3 604.1,484.3 604.1,478.3 605.4,478.3 605.4,482.3 606.6,482.3 606.6,478.1 607.8,478.1 607.8,482.2 609.0,482.2 609.0,482.1 609.0,476.3 610.3,476.3 610.3,478.6 611.7,478.6 611.7,473.1 613.0,473.1 613.0,477.7 613.0,472.1 614.5,472.1 614.5,470.4 615.9,470.4 615.9,476.2 617.4,476.2 617.4,466.8 617.4,475.7 619.0,475.7 619.0,470.6 620.6,470.6 620.6,470.0 620.6,480.7 622.0,480.7 622.0,471.7 623.4,471.7 623.4,472.7 624.8,472.7 624.8,471.0 624.8,477.7 626.2,477.7 626.2,474.2 627.6,474.2 627.6,484.6 629.0,484.6 629.0,480.3 629.0,487.4 630.3,487.4 630.3,481.4 631.6,481.4 631.6,485.7 632.9,485.7 632.9,486.2 634.2,486.2 634.2,481.4 635.5,481.4 635.5,479.3 635.5,485.3 636.8,485.3 636.8,485.5 638.0,485.5 638.0,479.7 639.3,479.7 639.3,484.0 640.5,484.0 640.5,479.1 641.8,479.1 641.8,485.3 641.8,478.3 643.0,478.3 643.0,480.5 644.3,480.5 644.3,482.8 645.5,482.8 645.5,483.6 646.8,483.6 646.8,478.1 648.0,478.1 648.0,482.1 648.0,477.3 649.5,477.3 649.5,478.4 650.9,478.4 650.9,476.0 652.4,476.0 652.4,473.3 652.4,476.7 654.0,476.7 654.0,467.9 655.6,467.9 655.6,462.3 655.6,466.7 657.2,466.7 657.2,455.7 658.7,455.7 658.7,445.3 658.7,449.7 660.3,449.7 660.3,435.9 661.9,435.9 661.9,430.7 661.9,426.3 663.0,426.3 663.0,424.6 664.0,424.6 664.0,418.7 664.0,415.1 665.5,415.1 665.5,429.5 667.0,429.5 667.0,437.3 667.0,441.7 668.5,441.7 668.5,451.3 670.0,451.3 670.0,464.7 670.0,459.3 671.2,459.3 671.2,463.4 672.3,463.4 672.3,471.8 673.5,471.8 673.5,475.7 673.5,467.8 674.9,467.8 674.9,471.1 676.3,471.1 676.3,477.4 677.7,477.4 677.7,479.7 677.7,476.3 679.0,476.3 679.0,476.7 680.4,476.7 680.4,481.1 681.7,481.1 681.7,478.0 683.0,478.0 683.0,484.2 683.0,478.3 684.4,478.3 684.4,479.9 685.8,479.9 685.8,484.8 687.2,484.8 687.2,479.4 688.6,479.4 688.6,483.6 690.0,483.6 690.0,485.9 691.4,485.9 691.4,486.3 691.4,479.3 692.6,479.3 692.6,479.1 693.8,479.1 693.8,485.8 695.0,485.8 695.0,485.9 696.3,485.9 696.3,481.8 697.5,481.8 697.5,486.2 698.7,486.2 698.7,480.7 699.9,480.7 699.9,486.3 699.9,481.3 701.2,481.3 701.2,484.5 702.6,484.5 702.6,481.1 704.0,481.1 704.0,484.3 705.3,484.3 705.3,484.8 706.6,484.8 706.6,480.6 708.0,480.6 708.0,485.3 708.0,480.3 709.3,480.3 709.3,484.5 710.6,484.5 710.6,479.2 711.9,479.2 711.9,482.2 713.1,482.2 713.1,478.4 714.4,478.4 714.4,481.3 715.7,481.3 715.7,483.2 715.7,472.1 717.0,472.1 717.0,480.2 718.4,480.2 718.4,479.3 719.7,479.3 719.7,477.6 721.0,477.6 721.0,479.7 721.0,474.2 722.3,474.2 722.3,473.2 723.7,473.2 723.7,472.0 725.0,472.0 725.0,470.7 725.0,466.3 726.5,466.3 726.5,465.8 727.9,465.8 727.9,456.6 729.4,456.6 729.4,455.7 729.4,451.3 731.0,451.3 731.0,445.3 732.6,445.3 732.6,436.7 732.6,432.3 733.7,432.3 733.7,425.7 734.7,425.7 734.7,416.7 734.7,411.3 735.8,411.3 735.8,409.1 736.8,409.1 736.8,402.7 736.8,398.3 738.4,398.3 738.4,407.7 740.0,407.7 740.0,408.7 740.0,416.7 741.0,416.7 741.0,415.0 742.0,415.0 742.0,424.7 742.0,419.3 743.0,419.3 743.0,430.8 744.0,430.8 744.0,442.3 744.0,447.7 745.1,447.7 745.1,455.2 746.3,455.2 746.3,461.4 747.4,461.4 747.4,466.3 747.4,470.7 749.0,470.7 749.0,470.7 750.5,470.7 750.5,475.3 750.5,482.1 751.8,482.1 751.8,477.9 753.1,477.9 753.1,478.5 754.3,478.5 754.3,481.4 755.6,481.4 755.6,479.3 756.9,479.3 756.9,482.1 756.9,477.3 758.1,477.3 758.1,481.0 759.3,481.0 759.3,479.3 760.6,479.3 760.6,483.4 761.8,483.4 761.8,481.7 763.0,481.7 763.0,487.4 763.0,482.3 764.2,482.3 764.2,484.2 765.5,484.2 765.5,483.2 766.7,483.2 766.7,483.4 767.9,483.4 767.9,487.1 769.1,487.1 769.1,485.1 770.4,485.1 770.4,486.4 771.6,486.4 771.6,487.4 771.6,484.7 773.0,484.7 773.0,486.3 774.4,486.3 774.4,485.1 775.8,485.1 775.8,486.2 777.2,486.2 777.2,485.6 778.6,485.6 778.6,483.1 780.0,483.1 780.0,482.3 780.0,485.3 781.2,485.3 781.2,482.6 782.5,482.6 782.5,481.6 783.8,481.6 783.8,484.1 785.0,484.1 785.0,480.3 785.0,484.2 786.5,484.2 786.5,481.4 787.9,481.4 787.9,485.5 789.3,485.5 789.3,483.0 790.8,483.0 790.8,484.3 790.8,490.5 792.2,490.5 792.2,485.0 793.5,485.0 793.5,487.7 794.9,487.7 794.9,484.7 796.3,484.7 796.3,487.0 797.6,487.0 797.6,485.1 799.0,485.1 799.0,488.4 799.0,484.6 800.2,484.6 800.2,485.8 801.5,485.8 801.5,487.7 802.7,487.7 802.7,489.3 803.9,489.3 803.9,488.3 805.1,488.3 805.1,487.0 806.4,487.0 806.4,486.4 807.6,486.4 807.6,486.7 807.6,490.5 808.9,490.5 808.9,488.2 810.2,488.2 810.2,489.6 811.5,489.6 811.5,485.8 812.8,485.8 812.8,489.4 814.1,489.4 814.1,485.1 815.4,485.1 815.4,487.4 816.7,487.4 816.7,488.6 818.0,488.6 818.0,484.6 818.0,488.4 819.3,488.4 819.3,485.9 820.7,485.9 820.7,487.7 822.0,487.7 822.0,487.9 823.4,487.9 823.4,485.0 824.7,485.0 824.7,488.5 826.0,488.5 826.0,486.3 827.4,486.3 827.4,488.7 828.7,488.7 828.7,485.1 828.7,488.9 830.0,488.9 830.0,488.3 831.3,488.3 831.3,486.4 832.6,486.4 832.6,488.7 833.9,488.7 833.9,485.7 835.1,485.7 835.1,488.2 836.4,488.2 836.4,484.4 837.7,484.4 837.7,487.9 839.0,487.9 839.0,484.1 839.0,487.9 840.4,487.9 840.4,485.6 841.7,485.6 841.7,487.2 843.0,487.2 843.0,485.0 844.4,485.0 844.4,486.3 845.8,486.3 845.8,484.8 847.1,484.8 847.1,484.9 848.4,484.9 848.4,483.2 849.8,483.2 849.8,483.1 849.8,486.9 851.1,486.9 851.1,484.6 852.4,484.6 852.4,487.0 853.8,487.0 853.8,484.4 855.1,484.4 855.1,486.9 856.4,486.9 856.4,483.2 857.8,483.2 857.8,486.0 859.1,486.0 859.1,482.4 860.4,482.4 860.4,482.3 860.4,487.7 861.7,487.7 861.7,483.1 863.0,483.1 863.0,488.1 864.4,488.1 864.4,484.3 865.7,484.3 865.7,486.8 867.0,486.8 867.0,483.8 868.4,483.8 868.4,488.2 869.7,488.2 869.7,484.7 871.0,484.7 871.0,488.4 871.0,484.6 872.4,484.6 872.4,487.0 873.8,487.0 873.8,484.4 875.2,484.4 875.2,486.8 876.6,486.8 876.6,485.3 878.0,485.3 878.0,486.8 879.4,486.8 879.4,487.3 879.4,483.5 880.7,483.5 880.7,485.6 882.0,485.6 882.0,483.0 883.4,483.0 883.4,481.8 884.7,481.8 884.7,480.8 886.0,480.8 886.0,478.4 887.4,478.4 887.4,474.7 888.7,474.7 888.7,474.4 890.0,474.4 890.0,469.9 890.0,472.7 891.3,472.7 891.3,473.2 892.7,473.2 892.7,476.2 894.0,476.2 894.0,475.3 894.0,477.7 895.4,477.7 895.4,477.6 896.7,477.6 896.7,475.0 898.0,475.0 898.0,478.6 899.4,478.6 899.4,482.0 899.4,474.1 900.6,474.1 900.6,481.4 901.9,481.4 901.9,475.4 903.1,475.4 903.1,481.1 904.3,481.1 904.3,480.0 905.6,480.0 905.6,475.8 906.8,475.8 906.8,476.2 906.8,482.0 908.2,482.0 908.2,479.0 909.6,479.0 909.6,481.7 911.0,481.7 911.0,484.8 912.3,484.8 912.3,485.1 913.6,485.1 913.6,487.5 914.8,487.5 914.8,487.1 916.1,487.1 916.1,488.8 917.4,488.8 917.4,486.9 917.4,490.1 918.7,490.1 918.7,486.9 920.0,486.9 920.0,489.9 921.3,489.9 921.3,487.8 922.6,487.8 922.6,488.8 924.0,488.8 924.0,488.0 925.3,488.0 925.3,488.1 926.6,488.1 926.6,490.0 927.9,490.0 927.9,490.1 927.9,486.9 929.2,486.9 929.2,490.3 930.5,490.3 930.5,489.1 931.8,489.1 931.8,488.1 933.1,488.1 933.1,489.3 934.5,489.3 934.5,487.0 935.8,487.0 935.8,487.5 937.1,487.5 937.1,490.0 938.4,490.0 938.4,490.7 938.4,487.3 939.6,487.3 939.6,488.1 940.9,488.1 940.9,489.9 942.1,489.9 942.1,490.7 943.3,490.7 943.3,490.0 944.6,490.0 944.6,488.3 945.8,488.3 945.8,491.7 945.8,488.8 947.2,488.8 947.2,488.9 948.6,488.9 948.6,487.3 950.0,484.3 951.2,484.3 951.2,484.4 952.5,484.4 952.5,485.2 953.7,485.2 953.7,483.8 954.9,483.8 954.9,485.5 956.2,485.5 956.2,484.3 957.4,484.3 957.4,486.2 957.4,482.8 958.7,482.8 958.7,486.1 960.0,486.1 960.0,486.3 961.4,485.7 962.7,486.2" fill="none" stroke="#2b33f3" stroke-width="2.6" stroke-linejoin="round" stroke-linecap="butt"/>
<polyline points="369.6,429 369.6,388 372.7,383.5 373.2,366 375.3,324 374.4,303 376.6,274 378.2,246.6 379.6,274 382,286 381.6,341 384.3,366 385.4,400 385.6,416 387,421 389,440" fill="none" stroke="#2b33f3" stroke-width="3.2" stroke-linejoin="round" stroke-linecap="butt"/>
<polygon points="378.2,247 376.6,274 379.6,274" fill="#2b33f3"/>
<polygon points="376.6,274 375.2,292 381.9,292 379.6,274" fill="#2b33f3" opacity="0.3"/>
<polyline points="44.5,206.7 44.5,231.3 45.5,231.3 45.5,202.7 45.5,236.3 46.2,236.3 46.2,202.7 46.9,202.7 46.9,240.5 47.7,240.5 47.7,206.4 48.4,206.4 48.4,206.9 49.1,206.9 49.1,207.7 49.8,207.7 49.8,241.9 50.6,241.9 50.6,211.3 51.3,211.3 51.3,239.3 52.0,239.3 52.0,245.3 52.0,196.7 52.7,196.7 52.7,242.2 53.4,242.2 53.4,220.0 54.1,220.0 54.1,243.6 54.9,243.6 54.9,238.9 55.6,238.9 55.6,221.7 56.3,221.7 56.3,233.8 57.0,233.8 57.0,249.3 57.0,206.2 57.7,206.2 57.7,234.1 58.4,234.1 58.4,206.3 59.0,206.3 59.0,216.3 59.7,216.3 59.7,239.5 60.4,239.5 60.4,221.4 61.1,221.4 61.1,205.9 61.8,205.9 61.8,207.9 62.5,207.9 62.5,237.4 63.1,237.4 63.1,224.6 63.8,224.6 63.8,243.0 64.5,243.0 64.5,249.3 64.5,202.7 65.2,202.7 65.2,228.6 65.9,228.6 65.9,209.0 66.7,209.0 66.7,238.4 67.4,238.4 67.4,227.1 68.1,227.1 68.1,234.4 68.8,234.4 68.8,218.8 69.6,218.8 69.6,240.8 70.3,240.8 70.3,219.3 71.0,219.3 71.0,214.7 71.0,247.3 71.7,247.3 71.7,234.7 72.3,234.7 72.3,216.2 73.0,216.2 73.0,248.8 73.7,248.8 73.7,217.7 74.3,217.7 74.3,239.8 75.0,239.8 75.0,245.7 75.7,245.7 75.7,209.0 76.3,209.0 76.3,229.7 77.0,229.7 77.0,207.7 77.0,245.3 77.7,245.3 77.7,221.5 78.5,221.5 78.5,249.2 79.2,249.2 79.2,222.8 79.9,222.8 79.9,249.5 80.7,249.5 80.7,239.1 81.4,239.1 81.4,235.7 81.4,253.3 82.1,253.3 82.1,235.6 82.7,235.6 82.7,243.4 83.4,243.4 83.4,225.2 84.1,225.2 84.1,246.3 84.7,246.3 84.7,218.4 85.4,218.4 85.4,240.5 86.0,240.5 86.0,217.6 86.7,217.6 86.7,236.3 86.7,207.7 87.4,207.7 87.4,235.2 88.0,235.2 88.0,214.5 88.7,214.5 88.7,234.8 89.3,234.8 89.3,214.6 90.0,214.6 90.0,233.3 90.7,233.3 90.7,218.8 91.3,218.8 91.3,229.3 92.0,229.3 92.0,238.3 92.0,210.7 92.7,210.7 92.7,233.1 93.4,233.1 93.4,210.4 94.1,210.4 94.1,217.2 94.9,217.2 94.9,204.8 95.6,204.8 95.6,221.7 96.3,221.7 96.3,210.6 97.0,210.6 97.0,201.7 97.0,226.3 97.7,226.3 97.7,211.0 98.4,211.0 98.4,216.5 99.2,216.5 99.2,199.1 99.9,199.1 99.9,230.5 100.6,230.5 100.6,229.8 101.3,229.8 101.3,193.8 102.1,193.8 102.1,223.8 102.8,223.8 102.8,202.6 103.5,202.6 103.5,234.3 103.5,191.7 104.2,191.7 104.2,217.7 104.9,217.7 104.9,209.0 105.6,209.0 105.6,214.4 106.2,214.4 106.2,215.2 106.9,215.2 106.9,206.5 107.6,206.5 107.6,215.8 108.3,215.8 108.3,194.9 109.0,194.9 109.0,193.7 109.0,217.3 109.7,217.3 109.7,196.5 110.4,196.5 110.4,188.3 111.1,188.3 111.1,192.3 111.9,192.3 111.9,203.3 112.6,203.3 112.6,183.8 113.3,183.8 113.3,212.8 114.0,212.8 114.0,213.3 114.0,178.7 114.7,178.7 114.7,210.6 115.3,210.6 115.3,202.3 116.0,202.3 116.0,192.4 116.7,192.4 116.7,179.2 117.4,179.2 117.4,202.3 118.1,202.3 118.1,180.5 118.7,180.5 118.7,193.9 119.4,193.9 119.4,180.7 119.4,197.3 120.2,197.3 120.2,181.3 121.0,181.3 121.0,189.1 121.7,189.1 121.7,182.8 122.5,182.8 122.5,157.7 122.5,181.3 123.2,181.3 123.2,159.4 123.8,159.4 123.8,168.8 124.5,168.8 124.5,148.7 125.2,148.7 125.2,171.7 125.8,171.7 125.8,150.9 126.5,150.9 126.5,139.4 127.1,139.4 127.1,162.4 127.8,162.4 127.8,173.3 127.8,131.7 128.5,131.7 128.5,164.0 129.2,164.0 129.2,163.5 129.9,163.5 129.9,122.9 130.6,122.9 130.6,157.2 131.3,157.2 131.3,130.3 132.0,130.3 132.0,115.7 132.0,151.3 132.7,151.3 132.7,122.6 133.4,122.6 133.4,142.9 134.1,142.9 134.1,130.8 134.9,130.8 134.9,152.2 135.6,152.2 135.6,153.9 136.3,153.9 136.3,119.7 137.0,119.7 137.0,112.7 137.0,153.3 137.7,153.3 137.7,113.5 138.4,113.5 138.4,120.2 139.1,120.2 139.1,135.4 139.8,135.4 139.8,111.6 140.5,111.6 140.5,140.8 141.2,140.8 141.2,111.1 141.9,111.1 141.9,127.5 142.6,127.5 142.6,131.3 142.6,110.2 143.2,110.2 143.2,116.8 143.9,116.8 143.9,116.6 144.5,116.6 144.5,91.7 144.5,109.3 145.2,109.3 145.2,98.8 145.9,98.8 145.9,107.4 146.6,107.4 146.6,97.8 147.2,97.8 147.2,109.2 147.9,109.2 147.9,99.3 148.6,99.3 148.6,110.9 149.3,110.9 149.3,103.2 150.0,103.2 150.0,110.3 150.0,97.7 150.7,97.7 150.7,103.0 151.3,103.0 151.3,98.3 152.0,98.3 152.0,84.7 152.7,84.7 152.7,92.4 153.3,92.4 153.3,75.7 154.0,75.7 154.0,65.7 154.0,88.3 154.8,88.3 154.8,82.5 155.5,82.5 155.5,72.2 156.2,72.2 156.2,80.5 157.0,80.5 157.0,88.3 157.0,72.7 157.7,72.7 157.7,69.3 158.5,69.3 158.5,77.9 159.2,77.9 159.2,82.0 159.9,82.0 159.9,54.9 160.7,54.9 160.7,72.7 161.4,72.7 161.4,36.7 161.4,73.3 162.1,73.3 162.1,65.5 162.8,65.5 162.8,34.6 163.5,34.6 163.5,48.4 164.2,48.4 164.2,41.4 164.9,41.4 164.9,49.5 165.6,49.5 165.6,66.8 165.6,37.7 166.3,37.7 166.3,66.2 167.0,66.2 167.0,35.3 167.7,35.3 167.7,61.4 168.4,61.4 168.4,41.6 169.2,41.6 169.2,48.7 169.9,48.7 169.9,42.9 170.6,42.9 170.6,57.7 171.3,57.7 171.3,56.3 171.3,32.7 172.0,32.7 172.0,41.1 172.7,41.1 172.7,49.8 173.4,49.8 173.4,50.5 174.2,50.5 174.2,35.1 174.9,35.1 174.9,47.6 175.6,47.6 175.6,48.7 176.3,48.7 176.3,32.2 177.0,32.2 177.0,56.3 177.0,16.7 177.7,16.7 177.7,51.1 178.5,51.1 178.5,27.8 179.2,27.8 179.2,58.8 179.9,58.8 179.9,25.4 180.7,25.4 180.7,47.0 181.4,47.0 181.4,20.7 181.4,56.3 182.1,56.3 182.1,26.7 182.7,26.7 182.7,45.2 183.4,45.2 183.4,28.0 184.1,28.0 184.1,42.2 184.7,42.2 184.7,31.7 185.4,31.7 185.4,58.9 186.0,58.9 186.0,40.8 186.7,40.8 186.7,27.7 186.7,58.3 187.4,58.3 187.4,37.4 188.0,37.4 188.0,61.7 188.7,61.7 188.7,60.6 189.3,60.6 189.3,60.0 190.0,60.0 190.0,72.3 190.0,38.7 190.7,38.7 190.7,70.7 191.3,70.7 191.3,56.8 192.0,56.8 192.0,72.3 192.7,72.3 192.7,73.0 193.3,73.0 193.3,89.7 194.0,89.7 194.0,63.7 194.0,91.3 194.7,91.3 194.7,62.0 195.3,62.0 195.3,88.9 196.0,88.9 196.0,83.5 196.7,83.5 196.7,65.3 197.3,65.3 197.3,82.8 198.0,82.8 198.0,62.7 198.0,88.3 198.7,88.3 198.7,66.7 199.4,66.7 199.4,74.1 200.1,74.1 200.1,53.9 200.9,53.9 200.9,71.7 201.6,71.7 201.6,49.9 202.3,49.9 202.3,68.2 203.0,68.2 203.0,38.7 203.0,79.3 203.8,79.3 203.8,57.2 204.5,57.2 204.5,79.0 205.3,79.0 205.3,55.5 206.0,55.5 206.0,89.5 206.8,89.5 206.8,92.3 206.8,63.7 207.4,63.7 207.4,90.8 208.1,90.8 208.1,69.3 208.7,69.3 208.7,86.4 209.4,86.4 209.4,72.5 210.0,72.5 210.0,73.7 210.0,103.8 210.7,103.8 210.7,73.6 211.3,73.6 211.3,97.3 212.0,97.3 212.0,71.0 212.7,71.0 212.7,71.3 213.3,71.3 213.3,97.1 214.0,97.1 214.0,83.4 214.7,83.4 214.7,87.9 215.3,87.9 215.3,82.5 216.0,82.5 216.0,96.3 216.0,70.7 216.8,70.7 216.8,92.3 217.5,92.3 217.5,76.4 218.2,76.4 218.2,105.7 219.0,105.7 219.0,83.4 219.8,83.4 219.8,84.7 220.5,84.7 220.5,84.7 220.5,112.3 221.2,112.3 221.2,94.6 221.9,94.6 221.9,110.5 222.6,110.5 222.6,105.1 223.3,105.1 223.3,97.0 224.0,97.0 224.0,109.2 224.7,109.2 224.7,93.7 224.7,107.3 225.4,107.3 225.4,109.4 226.0,109.4 226.0,96.5 226.7,96.5 226.7,113.9 227.3,113.9 227.3,106.9 228.0,106.9 228.0,108.7 228.7,108.7 228.7,105.8 229.3,105.8 229.3,131.4 230.0,131.4 230.0,136.3 230.0,106.2 230.7,106.2 230.7,127.7 231.3,127.7 231.3,107.7 232.0,107.7 232.0,133.5 232.7,133.5 232.7,104.4 233.3,104.4 233.3,99.6 234.0,99.6 234.0,116.0 234.7,116.0 234.7,124.5 235.3,124.5 235.3,106.1 236.0,106.1 236.0,94.7 236.0,126.3 236.8,126.3 236.8,104.3 237.5,104.3 237.5,130.6 238.2,130.6 238.2,114.3 239.0,114.3 239.0,105.4 239.8,105.4 239.8,137.4 240.5,137.4 240.5,108.7 240.5,140.3 241.2,140.3 241.2,124.8 241.8,124.8 241.8,136.0 242.5,136.0 242.5,124.5 243.2,124.5 243.2,148.0 243.8,148.0 243.8,125.7 244.5,125.7 244.5,119.7 245.2,119.7 245.2,142.3 245.8,142.3 245.8,129.9 246.5,129.9 246.5,161.3 246.5,124.7 247.1,124.7 247.1,130.3 247.8,130.3 247.8,136.8 248.4,136.8 248.4,143.2 249.0,143.2 249.0,145.3 249.0,138.7 250.0,142.0" fill="none" stroke="#000" stroke-width="1.7" stroke-linejoin="miter" stroke-linecap="butt"/>
<polyline points="257.0,148.9 258.0,148.9 258.0,153.2 258.0,142.8 258.9,142.8 258.9,149.1 259.8,149.1 259.8,142.5 260.6,142.5 260.6,141.9 261.5,141.9 261.5,145.2 261.5,130.8 262.2,130.8 262.2,131.4 263.0,131.4 263.0,143.2 263.0,101.8 263.8,101.8 263.8,121.4 264.5,121.4 264.5,130.8 264.5,149.2 265.6,149.2 265.6,145.5 266.6,145.5 266.6,164.9 267.7,164.9 267.7,174.2 267.7,149.2 268.7,149.2 268.7,155.5 269.8,155.5 269.8,163.9 270.8,163.9 270.8,169.2 270.8,141.8 271.8,141.8 271.8,160.7 272.9,160.7 272.9,153.5 273.9,153.5 273.9,149.3 275.0,149.3 275.0,166.5 276.0,166.5 276.0,170.2 276.0,154.8 277.1,154.8 277.1,173.4 278.2,173.4 278.2,178.3 279.2,178.3 279.2,171.8 280.3,171.8 280.3,176.6 281.4,176.6 281.4,192.2 281.4,168.2 282.4,168.2 282.4,193.1 283.5,193.1 283.5,172.0 284.5,172.0 284.5,189.6 285.6,189.6 285.6,180.4 286.6,180.4 286.6,198.0 287.7,198.0 287.7,162.8 287.7,201.2 288.8,201.2 288.8,182.4 289.8,182.4 289.8,173.9 290.9,173.9 290.9,198.9 291.9,198.9 291.9,193.2 293.0,193.2 293.0,163.8 293.0,209.2 294.0,209.2 294.0,180.9 295.0,197.1 296.0,192.9 297.0,189.1 298.0,185.0 299.0,181.0 300.1,176.6 301.2,172.8 302.4,168.7 303.5,164.4 304.6,164.4 304.6,163.8 304.6,198.2 305.7,198.2 305.7,191.9 306.8,191.9 306.8,171.9 307.8,171.9 307.8,193.0 308.9,193.0 308.9,181.2 310.0,181.2 310.0,208.2 310.0,179.8 311.0,179.8 311.0,203.3 312.0,203.3 312.0,191.2 313.0,191.2 313.0,179.7 314.0,179.7 314.0,193.0 315.0,193.0 315.0,187.4 316.0,187.4 316.0,195.6 317.0,195.6 317.0,210.2 317.0,173.8 318.1,173.8 318.1,189.3 319.2,189.3 319.2,180.3 320.4,180.3 320.4,184.7 321.5,184.7 321.5,161.8 321.5,192.2 322.6,192.2 322.6,180.2 323.6,180.2 323.6,194.2 324.7,194.2 324.7,204.8 324.7,193.8 325.8,193.8 325.8,203.3 326.8,203.3 326.8,203.0 327.9,203.0 327.9,214.5 328.9,214.5 328.9,205.4 330.0,205.4 330.0,222.8 330.0,199.8 331.0,199.8 331.0,213.2 332.0,213.2 332.0,212.1 333.0,212.1 333.0,203.4 334.0,203.4 334.0,195.4 335.0,195.4 335.0,219.2 335.0,192.8 336.1,192.8 336.1,207.0 337.2,207.0 337.2,216.1 338.2,216.1 338.2,205.7 339.3,205.7 339.3,213.2 340.4,213.2 340.4,211.6 341.5,211.6 341.5,223.8 341.5,203.8 342.4,203.8 342.4,215.1 343.3,215.1 343.3,217.0 344.2,217.0 344.2,207.3 345.2,207.3 345.2,219.7 346.1,219.7 346.1,203.0 347.0,203.0 347.0,189.4 347.0,221.2 348.0,221.2 348.0,197.5 349.0,197.5 349.0,219.4 350.0,219.4 350.0,204.3 351.0,204.3 351.0,217.2 351.0,199.8 352.0,199.8 352.0,219.1 353.0,219.1 353.0,212.2 354.0,212.2 354.0,212.3 355.0,212.3 355.0,214.9 356.0,214.9 356.0,208.4 356.0,222.8 356.9,222.8 356.9,216.0 357.9,216.0 357.9,213.8 358.8,213.8 358.8,222.3 359.7,222.3 359.7,211.4 360.7,211.4 360.7,226.1 361.6,226.1 361.6,211.8 361.6,228.2 362.7,228.2 362.7,215.5 363.8,215.5 363.8,230.4 364.8,230.4 364.8,214.0 365.9,214.0 365.9,221.0 367.0,221.0 367.0,235.2 367.0,203.8 368.0,203.8 368.0,213.3 369.0,213.3 369.0,210.2 370.0,210.2 370.0,219.6 371.0,219.6 371.0,192.8 371.0,235.2 372.0,235.2 372.0,210.3 373.0,210.3 373.0,216.7 374.0,216.7 374.0,214.6 375.0,214.6 375.0,200.5 376.0,200.5 376.0,225.9 376.0,201.8 377.0,201.8 377.0,215.6 378.0,215.6 378.0,205.0 379.0,205.0 379.0,202.6 380.0,202.6 380.0,215.3 381.0,215.3 381.0,206.1 382.0,206.1 382.0,222.2 382.0,198.8 383.1,198.8 383.1,202.7 384.2,202.7 384.2,214.6 385.4,214.6 385.4,206.4 386.5,206.4 386.5,193.4 386.5,220.2 387.6,220.2 387.6,208.4 388.6,208.4 388.6,204.5 389.7,204.5 389.7,210.9 390.8,210.9 390.8,222.2 390.8,201.8 391.9,201.8 391.9,218.4 392.9,218.4 392.9,206.9 393.9,206.9 393.9,225.0 395.0,225.0 395.0,211.4 395.0,231.2 395.9,231.2 395.9,216.9 396.9,216.9 396.9,230.6 397.9,230.6 397.9,230.5 398.8,230.5 398.8,244.8 398.8,228.2 399.7,228.2 399.7,241.7 400.6,241.7 400.6,233.3 401.5,233.3 401.5,218.5 402.4,218.5 402.4,214.8 402.4,231.2 403.5,231.2 403.5,226.9 404.5,226.9 404.5,228.2 405.6,228.2 405.6,220.7 406.6,220.7 406.6,231.0 407.7,231.0 407.7,217.8 407.7,238.2 408.8,238.2 408.8,217.6 409.8,217.6 409.8,218.9 410.9,218.9 410.9,237.1 411.9,237.1 411.9,223.7 413.0,223.7 413.0,209.2 413.0,238.2 414.0,238.2 414.0,227.0 415.0,227.0 415.0,226.6 416.0,226.6 416.0,236.4 417.0,236.4 417.0,224.9 418.0,224.9 418.0,228.2 418.0,245.8 419.1,245.8 419.1,236.5 420.2,236.5 420.2,242.6 421.2,242.6 421.2,234.0 422.3,234.0 422.3,239.1 423.4,239.1 423.4,236.7 424.5,236.7 424.5,245.8 424.5,230.4 425.6,230.4 425.6,232.4 426.6,232.4 426.6,239.7 427.7,239.7 427.7,234.1 428.8,234.1 428.8,228.2 428.8,237.2 429.9,237.2 429.9,224.4 430.9,224.4 430.9,226.2 432.0,226.2 432.0,211.3 432.0,228.9 432.9,228.9 432.9,216.4 433.8,216.4 433.8,213.5 434.7,213.5 434.7,222.2 434.7,202.8 435.9,202.8 435.9,230.2 437.0,230.2 437.0,219.8 437.0,247.9 438.0,247.9 438.0,242.8 439.0,253.2 440.1,252.5 441.2,252.4 442.4,252.0 443.5,251.8 444.6,251.8 444.6,250.2 445.6,250.2 445.6,250.0 446.7,250.0 446.7,247.6 447.8,247.6 447.8,250.1 447.8,242.8 448.9,242.8 448.9,247.7 449.9,247.7 449.9,238.8 450.9,238.8 450.9,247.1 452.0,247.1 452.0,250.1 452.0,234.8 453.0,234.8 453.0,251.3 454.0,251.3 454.0,237.8 455.0,237.8 455.0,250.7 456.0,250.7 456.0,258.2 456.0,229.4 457.1,229.4 457.1,245.1 458.2,245.1 458.2,234.4 459.3,234.4 459.3,241.9 460.4,241.9 460.4,241.2 460.4,229.4 461.5,229.4 461.5,237.7 462.5,237.7 462.5,237.6 463.6,239.0 464.7,240.7 465.8,242.9 466.8,244.7 467.9,246.7 469.0,248.5 470.0,249.3 471.0,249.6 472.0,250.3 473.0,250.7 474.0,251.6 475.0,251.8 476.0,252.7 477.0,253.0 478.0,253.4 479.0,253.4 479.0,252.5 479.9,252.5 479.9,253.1 480.9,253.1 480.9,252.1 481.9,252.1 481.9,253.5 482.9,253.5 482.9,252.5 483.8,252.5 483.8,252.0 484.8,252.0 484.8,253.6 485.8,253.6 485.8,257.2 485.8,248.4 486.9,248.4 486.9,254.9 487.9,254.9 487.9,255.7 489.0,258.0 490.0,258.0 490.0,254.8 491.0,254.8 491.0,257.0 492.0,257.0 492.0,251.4 493.0,251.4 493.0,262.6 493.0,245.1 494.1,245.1 494.1,259.1 495.2,259.1 495.2,252.5 496.2,252.5 496.2,246.4 497.3,246.4 497.3,257.5 498.4,257.5 498.4,245.1 498.4,260.2 499.5,260.2 499.5,256.5 500.5,256.5 500.5,252.1 501.6,252.1 501.6,257.8 502.6,257.8 502.6,254.7 503.7,254.7 503.7,249.4 503.7,266.9 504.8,266.9 504.8,252.7 505.8,252.7 505.8,249.5 506.9,249.5 506.9,262.1 507.9,262.1 507.9,261.7 509.0,261.7 509.0,251.5 509.0,264.8 510.0,264.8 510.0,258.6 511.0,258.6 511.0,261.1 512.0,261.1 512.0,259.7 513.0,259.7 513.0,264.9 514.0,264.9 514.0,272.2 514.0,257.8 515.1,257.8 515.1,266.1 516.3,266.1 516.3,254.8 517.4,254.8 517.4,266.9 517.4,244.1 518.5,244.1 518.5,268.1 519.5,268.1 519.5,256.1 520.6,256.1 520.6,255.8 520.6,268.0 521.7,268.0 521.7,263.0 522.8,263.0 522.8,263.7 523.8,263.7 523.8,264.2 524.9,264.2 524.9,263.9 526.0,264.5 527.0,265.1 528.0,265.4 529.0,266.3 530.0,266.6 531.0,267.5 532.0,267.7 533.0,268.3 534.0,268.5 534.9,268.8 535.9,269.1 536.9,269.6 537.9,270.1 538.8,270.0 539.8,270.4 540.8,270.9 541.8,270.3 542.9,270.1 543.9,269.9 544.9,269.2 546.0,269.0 547.0,268.5 548.1,269.1 549.1,269.4 550.2,269.8 551.2,270.2 552.3,270.6 553.4,270.9 554.4,271.5 555.5,271.7 556.6,271.7 556.6,271.8 557.6,271.8 557.6,268.7 558.7,268.7 558.7,274.3 559.8,274.3 559.8,265.1 559.8,275.2 560.8,275.2 560.8,269.1 561.9,269.1 561.9,274.3 563.0,274.3 563.0,272.4 564.0,272.4 564.0,268.2 564.0,283.6 565.1,283.6 565.1,275.9 566.1,275.9 566.1,275.8 567.2,275.8 567.2,280.4 568.2,280.4 568.2,284.0 569.3,284.0 569.3,277.3 570.3,277.3 570.3,284.0 571.4,284.0 571.4,295.2 571.4,268.2 572.5,268.2 572.5,282.2 573.5,282.2 573.5,271.9 574.6,271.9 574.6,272.2 575.6,272.2 575.6,282.5 576.7,282.5 576.7,282.6 576.7,269.4 577.8,269.4 577.8,277.1 578.8,277.1 578.8,274.9 579.9,274.9 579.9,276.4 580.9,276.4 580.9,280.6 582.0,280.6 582.0,269.4 582.0,285.8 583.0,285.8 583.0,273.6 584.0,273.6 584.0,283.0 585.0,283.0 585.0,284.0 586.0,284.0 586.0,281.1 587.0,281.1 587.0,283.6 588.0,283.6 588.0,295.2 588.0,274.6 589.0,274.6 589.0,289.8 589.9,289.8 589.9,279.8 590.9,279.8 590.9,286.2 591.8,286.2 591.8,280.9 592.8,280.9 592.8,281.5 593.7,281.5 593.7,277.0 594.6,277.0 594.6,280.6 595.6,280.6 595.6,285.8 595.6,269.4 596.7,269.4 596.7,287.0 597.8,287.0 597.8,277.1 598.9,277.1 598.9,281.1 600.0,281.1 600.0,268.2 600.0,292.1 601.0,292.1 601.0,290.7 602.0,290.7 602.0,289.7 603.0,289.7 603.0,298.2 603.0,285.1 604.0,285.1 604.0,294.8 605.0,294.8 605.0,289.4 606.0,289.4 606.0,297.3 607.0,297.3 607.0,290.4 608.0,290.4 608.0,281.8 608.0,301.2 608.9,301.2 608.9,291.8 609.9,291.8 609.9,285.9 610.8,285.9 610.8,295.8 611.7,295.8 611.7,283.0 612.7,283.0 612.7,285.3 613.6,285.3 613.6,279.8 613.6,293.2 614.6,293.2 614.6,285.5 615.7,285.5 615.7,286.8 616.8,286.8 616.8,286.5 617.8,286.5 617.8,279.8 617.8,290.0 618.8,290.0 618.8,287.1 619.9,287.1 619.9,289.5 620.9,289.5 620.9,290.5 621.9,290.5 621.9,291.1 623.0,291.1 623.0,291.7 624.0,291.7 624.0,296.2 624.0,290.5 625.1,290.5 625.1,293.6 626.2,293.6 626.2,289.9 627.2,289.9 627.2,291.6 628.3,291.6 628.3,293.2 629.4,293.2 629.4,284.1 629.4,297.2 630.5,297.2 630.5,284.3 631.5,284.3 631.5,291.0 632.6,291.0 632.6,287.9 633.6,287.9 633.6,289.8 634.7,289.8 634.7,294.0 635.7,294.0 635.7,283.3 636.8,283.3 636.8,278.8 636.8,298.2 637.8,298.2 637.8,287.5 638.9,287.5 638.9,294.5 639.9,294.5 639.9,290.0 641.0,290.0 641.0,293.4 642.0,293.4 642.0,287.2 642.0,300.2 643.1,300.2 643.1,292.4 644.1,292.4 644.1,293.0 645.2,293.0 645.2,296.8 646.3,296.8 646.3,293.1 647.3,293.1 647.3,297.4 648.4,297.4 648.4,298.2 648.4,292.5 649.5,292.5 649.5,295.7 650.5,295.7 650.5,293.4 651.6,293.4 651.6,294.9 652.6,294.9 652.6,297.2 653.7,297.2 653.7,295.7 654.8,295.7 654.8,298.3 655.8,298.3 655.8,298.5 656.9,298.5 656.9,289.4 656.9,302.6 657.9,302.6 657.9,297.8 658.9,297.8 658.9,294.4 659.9,294.4 659.9,294.1 661.0,294.1 661.0,298.1 662.0,298.1 662.0,296.1 663.0,296.1 663.0,295.8 664.0,295.8 664.0,285.1 664.0,302.6 665.0,302.6 665.0,291.4 665.9,291.4 665.9,293.0 666.9,293.0 666.9,287.0 667.8,287.0 667.8,296.3 668.8,296.3 668.8,283.4 669.7,283.4 669.7,294.3 670.6,294.3 670.6,290.6 671.6,290.6 671.6,298.2 671.6,281.8 672.7,281.8 672.7,284.1 673.7,284.1 673.7,298.4 674.8,298.4 674.8,292.4 675.9,292.4 675.9,295.2 676.9,295.2 676.9,295.5 678.0,295.5 678.0,292.8 678.0,301.0 679.0,301.0 679.0,295.1 680.0,295.1 680.0,295.9 681.0,295.9 681.0,295.8 682.0,296.5 683.0,296.9 684.0,296.9 685.0,295.9 686.0,296.8 687.0,296.1 688.0,296.6 689.0,296.1 690.0,296.4 691.0,296.0 692.0,296.4 693.0,295.9 694.0,296.1 695.0,295.8 696.0,296.1 697.0,296.1 698.0,296.1 699.0,295.7 700.0,295.9 701.0,295.7 702.0,295.5 703.0,295.5 704.0,295.3 705.0,295.5 706.0,295.3 707.0,294.9 708.0,295.1 709.0,294.6 710.0,294.9 711.0,294.8 712.0,294.5 713.0,294.3 714.0,294.4 715.0,294.3 716.0,294.3 716.0,293.6 717.0,293.6 717.0,293.9 718.0,293.9 718.0,292.7 719.0,292.7 719.0,293.0 720.0,293.0 720.0,296.8 720.0,289.8 720.9,289.8 720.9,295.1 721.9,295.1 721.9,294.4 722.8,294.4 722.8,296.3 723.7,296.3 723.7,296.4 724.7,296.4 724.7,297.9 725.6,297.9 725.6,296.8 725.6,300.2 726.6,300.2 726.6,297.8 727.7,297.8 727.7,300.8 728.8,300.8 728.8,304.5 729.8,304.5 729.8,308.2 729.8,293.8 730.8,293.8 730.8,301.1 731.9,301.1 731.9,309.6 732.9,309.6 732.9,304.1 734.0,304.1 734.0,301.9 735.0,301.9 735.0,310.2 735.0,301.5 736.1,301.5 736.1,309.6 737.1,309.6 737.1,305.3 738.2,305.3 738.2,304.4 739.2,304.4 739.2,304.8 740.3,304.8 740.3,307.0 741.4,307.0 741.4,302.0 742.4,302.0 742.4,300.2 743.5,300.2 743.5,308.2 743.5,300.5 744.6,300.5 744.6,307.8 745.6,307.8 745.6,303.2 746.7,303.2 746.7,304.8 747.8,304.8 747.8,306.1 748.8,306.1 748.8,305.6 749.9,305.6 749.9,301.4 750.9,301.4 750.9,307.0 752.0,307.0 752.0,308.2 752.0,301.5 753.0,301.5 753.0,304.3 754.1,304.3 754.1,305.4 755.1,305.4 755.1,307.3 756.2,307.3 756.2,303.6 757.2,303.6 757.2,306.0 758.3,306.0 758.3,300.7 759.4,300.7 759.4,305.0 760.4,305.0 760.4,298.2 760.4,310.2 761.5,310.2 761.5,304.5 762.5,304.5 762.5,305.2 763.6,305.2 763.6,303.2 764.6,303.2 764.6,310.3 765.7,310.3 765.7,301.2 766.7,301.2 766.7,302.4 767.8,302.4 767.8,293.8 767.8,310.2 768.8,310.2 768.8,302.1 769.9,302.1 769.9,303.9 770.9,303.9 770.9,306.2 772.0,306.2 772.0,301.5 773.0,301.5 773.0,298.2 773.0,313.2 773.9,313.2 773.9,306.8 774.9,306.8 774.9,307.8 775.8,307.8 775.8,301.9 776.8,301.9 776.8,306.1 777.7,306.1 777.7,305.3 778.6,305.3 778.6,307.1 779.6,307.1 779.6,300.0 780.5,300.0 780.5,299.4 780.5,311.2 781.6,311.2 781.6,302.3 782.6,302.3 782.6,305.8 783.7,305.8 783.7,301.5 784.7,301.5 784.7,311.3 785.8,311.3 785.8,301.6 786.8,301.6 786.8,300.4 787.9,300.4 787.9,293.8 787.9,310.2 788.9,310.2 788.9,299.8 789.9,299.8 789.9,304.1 791.0,304.1 791.0,303.8 792.0,303.8 792.0,303.6 793.0,303.6 793.0,309.3 794.0,309.3 794.0,309.2 794.0,303.5 795.0,303.5 795.0,309.7 795.9,309.7 795.9,308.5 796.9,308.5 796.9,307.8 797.8,307.8 797.8,304.4 798.8,304.4 798.8,310.7 799.7,310.7 799.7,304.7 800.7,304.7 800.7,305.4 801.6,305.4 801.6,302.5 802.6,302.5 802.6,298.2 802.6,311.2 803.6,311.2 803.6,308.5 804.7,308.5 804.7,305.1 805.8,305.1 805.8,307.2 806.8,307.2 806.8,306.2 807.9,306.2 807.9,315.7 808.9,315.7 808.9,302.8 810.0,302.8 810.0,312.9 811.0,312.9 811.0,319.0 811.0,304.8 812.1,304.8 812.1,318.0 813.1,318.0 813.1,311.8 814.2,311.8 814.2,307.7 815.3,307.7 815.3,311.1 816.3,311.1 816.3,310.5 817.4,309.6 818.3,309.6 818.3,310.6 819.3,310.6 819.3,309.7 820.2,309.7 820.2,309.7 821.2,309.7 821.2,310.7 822.1,310.7 822.1,308.8 823.1,308.8 823.1,310.4 824.0,310.4 824.0,312.2 824.0,306.8 825.0,306.8 825.0,312.2 826.0,312.2 826.0,308.6 827.0,308.6 827.0,311.3 828.0,311.3 828.0,312.9 829.0,312.9 829.0,310.9 830.0,310.9 830.0,310.7 831.0,310.7 831.0,308.8 831.0,314.2 832.0,314.2 832.0,310.1 833.0,310.1 833.0,312.7 834.0,312.7 834.0,307.7 835.0,307.7 835.0,309.6 836.0,309.6 836.0,313.0 837.0,313.0 837.0,308.8 838.0,308.8 838.0,306.2 839.0,306.2 839.0,311.5 840.0,311.5 840.0,314.2 840.0,304.8 841.0,304.8 841.0,313.9 842.0,313.9 842.0,315.1 843.0,315.1 843.0,307.7 844.0,307.7 844.0,309.1 845.0,309.1 845.0,303.8 845.0,315.2 846.0,315.2 846.0,309.6 847.0,309.6 847.0,311.8 848.0,311.8 848.0,306.2 849.0,306.2 849.0,313.6 850.0,313.6 850.0,308.3 851.0,308.3 851.0,314.6 852.0,314.6 852.0,315.2 852.0,309.8 853.0,309.8 853.0,314.3 854.0,314.3 854.0,310.8 855.0,310.8 855.0,314.9 856.0,314.9 856.0,313.1 857.0,313.1 857.0,315.2 858.0,315.2 858.0,320.2 858.0,309.8 859.0,309.8 859.0,319.1 860.0,319.1 860.0,315.2 861.0,315.2 861.0,310.0 862.0,310.0 862.0,314.2 863.0,314.2 863.0,312.4 864.0,312.4 864.0,316.2 864.0,310.8 865.0,310.8 865.0,314.2 866.0,314.2 866.0,316.0 867.0,316.0 867.0,313.3 868.0,313.3 868.0,316.3 869.0,316.3 869.0,318.2 869.0,310.8 870.0,310.8 870.0,315.0 871.0,315.0 871.0,311.7 872.0,311.7 872.0,309.9 873.0,309.9 873.0,305.8 873.0,314.2 874.0,314.2 874.0,308.1 875.0,308.1 875.0,306.3 876.0,306.3 876.0,308.6 877.0,308.6 877.0,299.8 877.0,309.2 878.0,309.2 878.0,304.6 879.0,304.6 879.0,309.1 880.0,309.1 880.0,307.6 881.0,309.2 882.0,309.6 883.0,310.4 884.0,311.1 885.0,311.8 886.0,312.1 887.0,313.0 888.0,313.9 889.0,314.1 890.0,315.0 891.0,315.2 892.0,315.8 893.0,316.4 894.0,316.9 895.0,317.3 896.0,317.8 897.0,317.9 898.0,317.9 899.0,317.8 900.0,317.9 901.0,317.7 902.0,317.6 903.0,318.0 904.0,317.3 905.0,317.3 905.0,318.0 906.0,318.0 906.0,317.4 907.0,317.4 907.0,317.4 908.0,317.4 908.0,319.8 909.0,319.8 909.0,317.2 910.0,317.2 910.0,320.2 910.0,314.8 911.0,314.8 911.0,317.4 912.0,317.4 912.0,317.9 913.0,317.9 913.0,316.1 914.0,316.1 914.0,315.8 915.0,314.7 916.0,314.8 917.0,314.5 918.0,314.1 919.0,313.7 920.0,313.3 921.0,313.0 922.0,312.7 923.0,312.3 924.0,312.0 925.0,311.7 926.0,311.8 927.0,311.8 927.0,312.5 928.0,312.5 928.0,310.7 929.0,310.7 929.0,311.3 930.0,311.3 930.0,309.4 931.0,309.4 931.0,308.5 931.0,313.2 932.0,313.2 932.0,310.3 933.0,310.3 933.0,312.2 934.0,312.2 934.0,309.8 935.0,309.8 935.0,314.2 936.0,314.2 936.0,309.8 936.0,316.2 937.0,316.2 937.0,312.2 938.0,312.2 938.0,313.0 939.0,313.0 939.0,310.1 940.0,310.1 940.0,313.2 941.0,313.2 941.0,312.4 942.0,312.4 942.0,309.8 942.0,316.2 943.0,316.2 943.0,311.8 944.0,311.8 944.0,315.0 945.0,315.0 945.0,314.3 946.0,314.3 946.0,315.6 947.0,315.6 947.0,313.3 948.0,313.3 948.0,318.2 948.0,310.8 949.0,310.8 949.0,312.1 950.0,312.1 950.0,315.9 951.0,315.9 951.0,314.3 952.0,314.3 952.0,315.6 953.0,315.6 953.0,318.1 954.0,318.1 954.0,309.8 954.0,321.2 955.0,321.2 955.0,313.1 956.0,313.1 956.0,312.9 957.0,312.9 957.0,316.8 958.0,316.8 958.0,319.2 959.0,319.2 959.0,315.7 960.0,315.7 960.0,319.2 960.0,311.8 961.1,311.8 961.1,315.9 962.2,315.9 962.2,317.1 963.2,317.1 963.2,314.0 964.3,314.0 964.3,318.0 965.4,318.0 965.4,317.2 965.4,309.8 966.5,313.5" fill="none" stroke="#000" stroke-width="1.75" stroke-linejoin="miter" stroke-linecap="butt"/>
<path d="M36.55,0 V667.85 M964,0 V667.85 M35.5,0.9 H965.05 M35.5,666.8 H965.05" fill="none" stroke="#31538a" stroke-width="2.1"/>
<line x1="36.9" y1="667" x2="36.9" y2="681.8" stroke="#000" stroke-width="2.1"/>
<line x1="170" y1="667" x2="170" y2="681.8" stroke="#000" stroke-width="2.1"/>
<line x1="301" y1="667" x2="301" y2="682" stroke="#000" stroke-width="2.1"/>
<line x1="432.5" y1="667" x2="432.5" y2="678" stroke="#000" stroke-width="2.1"/>
<line x1="565.6" y1="667" x2="565.6" y2="682" stroke="#000" stroke-width="2.1"/>
<line x1="699" y1="667" x2="699" y2="681.3" stroke="#000" stroke-width="2.1"/>
<line x1="834.4" y1="667" x2="834.4" y2="678" stroke="#000" stroke-width="2.1"/>
<line x1="964" y1="667" x2="964" y2="681.8" stroke="#000" stroke-width="2.1"/>
<text transform="translate(40,713) scale(1.0,1)" font-family="Liberation Serif, serif" font-weight="bold" font-size="20.7" text-anchor="middle" fill="#000" letter-spacing="0.36" xml:space="preserve" >10</text>
<text transform="translate(169.8,717.5) scale(1.0,1)" font-family="Liberation Serif, serif" font-weight="bold" font-size="20.7" text-anchor="middle" fill="#000" letter-spacing="0.36" xml:space="preserve" >20</text>
<text transform="translate(300.9,713.7) scale(1.0,1)" font-family="Liberation Serif, serif" font-weight="bold" font-size="20.7" text-anchor="middle" fill="#000" letter-spacing="0.36" xml:space="preserve" >30</text>
<text transform="translate(432.5,717) scale(1.0,1)" font-family="Liberation Serif, serif" font-weight="bold" font-size="20.7" text-anchor="middle" fill="#000" letter-spacing="0.36" xml:space="preserve" >40</text>
<text transform="translate(566,717.5) scale(1.0,1)" font-family="Liberation Serif, serif" font-weight="bold" font-size="20.7" text-anchor="middle" fill="#000" letter-spacing="0.36" xml:space="preserve" >50</text>
<text transform="translate(699.5,713.2) scale(1.0,1)" font-family="Liberation Serif, serif" font-weight="bold" font-size="20.7" text-anchor="middle" fill="#000" letter-spacing="0.36" xml:space="preserve" >60</text>
<text transform="translate(840.5,713) scale(1.0,1)" font-family="Liberation Serif, serif" font-weight="bold" font-size="20.7" text-anchor="middle" fill="#000" letter-spacing="0.36" xml:space="preserve" >70</text>
<text transform="translate(957.5,713) scale(1.0,1)" font-family="Liberation Serif, serif" font-weight="bold" font-size="20.7" text-anchor="middle" fill="#000" letter-spacing="0.36" xml:space="preserve" >80</text>
<text transform="translate(349.6,751.4) scale(1.0,1)" font-family="Liberation Serif, serif" font-weight="bold" font-size="30" text-anchor="start" fill="#000" letter-spacing="0.53" xml:space="preserve" >Position</text>
<path d="M468.7,730.8 H475.9 V732.4 H472.2 V756.8 H475.9 V758.4 H468.7 Z" fill="#000"/>
<path d="M600.9,730.8 H594.7 V732.4 H597.4 V756.8 H594.7 V758.4 H600.9 Z" fill="#000"/>
<circle cx="483.9" cy="732" r="2.55" fill="none" stroke="#000" stroke-width="1.0"/>
<text transform="translate(490.8,751.4) scale(1.0,1)" font-family="Liberation Serif, serif" font-weight="bold" font-size="30" text-anchor="start" fill="#000" letter-spacing="0.53" xml:space="preserve" >2 <tspan dx="1.2">Theta</tspan></text>
<text transform="translate(22.4,470.9) rotate(-90)" font-family="Liberation Serif, serif" font-weight="bold" font-size="31.3" letter-spacing="0.15" fill="#000" xml:space="preserve">Intensity (a .u.)</text>
<text transform="translate(491,207) scale(1.0,1)" font-family="Liberation Serif, serif" font-weight="bold" font-size="30.2" text-anchor="start" fill="#000" letter-spacing="0.53" xml:space="preserve" >a) Spirulina</text>
<text transform="translate(441,380.7) scale(1.0,1)" font-family="Liberation Serif, serif" font-weight="bold" font-size="30.5" text-anchor="start" fill="#0a62c8" letter-spacing="0.00" xml:space="preserve" >b) <tspan dx="-1.1" >C</tspan><tspan dx="0.9" >o</tspan><tspan dx="1.0" >Fe</tspan><tspan dx="-0.3" dy="6.9" font-size="19.4">2</tspan><tspan dx="1.0" dy="-6.9" >O</tspan><tspan dx="0" dy="6.9" font-size="19.4">4</tspan><tspan dx="0.7" dy="-6.9" font-size="28.6"> M</tspan><tspan dx="-0.4" font-size="28.6">N</tspan><tspan dx="0.6" font-size="28.6">P</tspan><tspan dx="1.6" font-size="28.6">s</tspan></text>
<text transform="translate(504.5,542.2) scale(1.0,1)" font-family="Liberation Serif, serif" font-weight="bold" font-size="30.5" text-anchor="start" fill="#ff0000" letter-spacing="0.00" xml:space="preserve" >c) <tspan dx="1.2" >C</tspan>o<tspan dx="1.0" >Fe</tspan><tspan dx="0" dy="6.9" font-size="19.4">2</tspan><tspan dx="0" dy="-6.9" >O</tspan><tspan dx="0.7" dy="6.9" font-size="19.4">4</tspan><tspan dx="0" dy="-6.9" > –Sp-</tspan><tspan dx="-2.1" >SO</tspan><tspan dx="-0.6" dy="6.9" font-size="19.4">3</tspan><tspan dx="0" dy="-6.9" >H</tspan></text>
</svg>
</body></html>
